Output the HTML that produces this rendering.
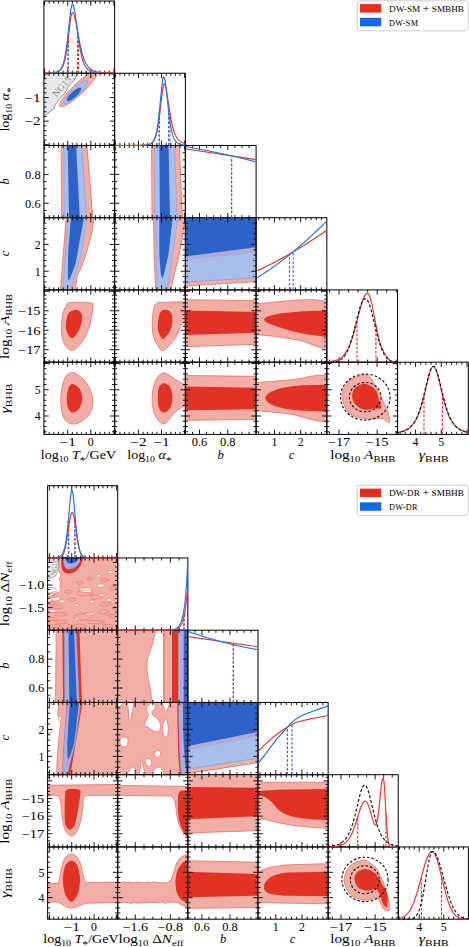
<!DOCTYPE html>
<html><head><meta charset="utf-8"><style>
html,body{margin:0;padding:0;background:#fff;width:469px;height:947px;overflow:hidden}
svg{display:block}
text{font-family:"Liberation Serif",serif;fill:#000}
</style></head><body>
<svg width="469" height="947" viewBox="0 0 469 947">
<path d="M44.59 73.23v-4.8M44.59 1v4.8M49.22 73.23v-2.6M49.22 1v2.6M53.84 73.23v-2.6M53.84 1v2.6M58.46 73.23v-2.6M58.46 1v2.6M63.09 73.23v-2.6M63.09 1v2.6M67.71 73.23v-4.8M67.71 1v4.8M72.33 73.23v-2.6M72.33 1v2.6M76.96 73.23v-2.6M76.96 1v2.6M81.58 73.23v-2.6M81.58 1v2.6M86.2 73.23v-2.6M86.2 1v2.6M90.82 73.23v-4.8M90.82 1v4.8M95.45 73.23v-2.6M95.45 1v2.6M100.07 73.23v-2.6M100.07 1v2.6M104.69 73.23v-2.6M104.69 1v2.6M109.32 73.23v-2.6M109.32 1v2.6M113.94 73.23v-4.8M113.94 1v4.8" stroke="#000" stroke-width="0.9" fill="none"/>
<rect x="43.9" y="1" width="70.73" height="72.23" fill="none" stroke="#000" stroke-width="1"/>
<clipPath id="c3"><rect x="43.9" y="73.23" width="70.73" height="72.23"/></clipPath><g clip-path="url(#c3)">
<path d="M42 71 L78.5 71 L78 73.2 L74.2 79.7 L69.9 84.5 L64.6 93.6 L59 99.5 L55.3 104.5 L53.8 108.9 L49.1 112 L45.3 115 L42 118Z" fill="#e8e8e8" stroke="#666" stroke-width="0.7" />
<text x="0" y="0" font-size="9.3" style="fill:#8c8c8c" textLength="24" lengthAdjust="spacingAndGlyphs" transform="translate(56.3 97.6) rotate(-49)">NG15</text>
<ellipse cx="78.65" cy="88.8" rx="25.4" ry="5.4" transform="rotate(-43.3 78.65 88.8)" fill="#f2aea6" stroke="#ea7a6c" stroke-width="0.9"/>
<ellipse cx="75.6" cy="92.15" rx="16.4" ry="3.9" transform="rotate(-44.5 75.6 92.15)" fill="#a9bfeb" stroke="#6f9be8" stroke-width="0.6"/>
<ellipse cx="73.95" cy="94.3" rx="9.6" ry="2.9" transform="rotate(-43 73.95 94.3)" fill="#2d62c8"/>
</g>
<path d="M44.59 145.47v-4.8M44.59 73.23v4.8M49.22 145.47v-2.6M49.22 73.23v2.6M53.84 145.47v-2.6M53.84 73.23v2.6M58.46 145.47v-2.6M58.46 73.23v2.6M63.09 145.47v-2.6M63.09 73.23v2.6M67.71 145.47v-4.8M67.71 73.23v4.8M72.33 145.47v-2.6M72.33 73.23v2.6M76.96 145.47v-2.6M76.96 73.23v2.6M81.58 145.47v-2.6M81.58 73.23v2.6M86.2 145.47v-2.6M86.2 73.23v2.6M90.82 145.47v-4.8M90.82 73.23v4.8M95.45 145.47v-2.6M95.45 73.23v2.6M100.07 145.47v-2.6M100.07 73.23v2.6M104.69 145.47v-2.6M104.69 73.23v2.6M109.32 145.47v-2.6M109.32 73.23v2.6M113.94 145.47v-4.8M113.94 73.23v4.8M43.9 144.76h4.8M114.63 144.76h-4.8M43.9 140.04h2.6M114.63 140.04h-2.6M43.9 135.32h2.6M114.63 135.32h-2.6M43.9 130.6h2.6M114.63 130.6h-2.6M43.9 125.87h2.6M114.63 125.87h-2.6M43.9 121.15h4.8M114.63 121.15h-4.8M43.9 116.43h2.6M114.63 116.43h-2.6M43.9 111.71h2.6M114.63 111.71h-2.6M43.9 106.99h2.6M114.63 106.99h-2.6M43.9 102.27h2.6M114.63 102.27h-2.6M43.9 97.55h4.8M114.63 97.55h-4.8M43.9 92.83h2.6M114.63 92.83h-2.6M43.9 88.1h2.6M114.63 88.1h-2.6M43.9 83.38h2.6M114.63 83.38h-2.6M43.9 78.66h2.6M114.63 78.66h-2.6M43.9 73.94h4.8M114.63 73.94h-4.8" stroke="#000" stroke-width="0.9" fill="none"/>
<rect x="43.9" y="73.23" width="70.73" height="72.23" fill="none" stroke="#000" stroke-width="1"/>
<path d="M115.33 145.47v-4.8M115.33 73.23v4.8M119.95 145.47v-2.6M119.95 73.23v2.6M124.57 145.47v-2.6M124.57 73.23v2.6M129.2 145.47v-2.6M129.2 73.23v2.6M133.82 145.47v-2.6M133.82 73.23v2.6M138.44 145.47v-4.8M138.44 73.23v4.8M143.07 145.47v-2.6M143.07 73.23v2.6M147.69 145.47v-2.6M147.69 73.23v2.6M152.31 145.47v-2.6M152.31 73.23v2.6M156.93 145.47v-2.6M156.93 73.23v2.6M161.56 145.47v-4.8M161.56 73.23v4.8M166.18 145.47v-2.6M166.18 73.23v2.6M170.8 145.47v-2.6M170.8 73.23v2.6M175.43 145.47v-2.6M175.43 73.23v2.6M180.05 145.47v-2.6M180.05 73.23v2.6M184.67 145.47v-4.8M184.67 73.23v4.8" stroke="#000" stroke-width="0.9" fill="none"/>
<rect x="114.63" y="73.23" width="70.73" height="72.23" fill="none" stroke="#000" stroke-width="1"/>
<clipPath id="c6"><rect x="43.9" y="145.47" width="70.73" height="72.23"/></clipPath><g clip-path="url(#c6)">
<path d="M61.1 143.5 L86.8 143.5 L92.9 219.7 L61.7 219.7Z" fill="#f2aea6" stroke="#ea7a6c" stroke-width="0.9" />
<path d="M63.7 143.5 L81.4 143.5 L86.8 219.7 L64.2 219.7Z" fill="#a9bfeb" stroke="#6f9be8" stroke-width="0.5" />
<path d="M67.6 143.5 L76 143.5 L79.9 219.7 L69.1 219.7Z" fill="#2d62c8" />
</g>
<path d="M44.59 217.7v-4.8M44.59 145.47v4.8M49.22 217.7v-2.6M49.22 145.47v2.6M53.84 217.7v-2.6M53.84 145.47v2.6M58.46 217.7v-2.6M58.46 145.47v2.6M63.09 217.7v-2.6M63.09 145.47v2.6M67.71 217.7v-4.8M67.71 145.47v4.8M72.33 217.7v-2.6M72.33 145.47v2.6M76.96 217.7v-2.6M76.96 145.47v2.6M81.58 217.7v-2.6M81.58 145.47v2.6M86.2 217.7v-2.6M86.2 145.47v2.6M90.82 217.7v-4.8M90.82 145.47v4.8M95.45 217.7v-2.6M95.45 145.47v2.6M100.07 217.7v-2.6M100.07 145.47v2.6M104.69 217.7v-2.6M104.69 145.47v2.6M109.32 217.7v-2.6M109.32 145.47v2.6M113.94 217.7v-4.8M113.94 145.47v4.8M43.9 210.48h2.6M114.63 210.48h-2.6M43.9 203.25h4.8M114.63 203.25h-4.8M43.9 196.03h2.6M114.63 196.03h-2.6M43.9 188.81h2.6M114.63 188.81h-2.6M43.9 181.58h2.6M114.63 181.58h-2.6M43.9 174.36h4.8M114.63 174.36h-4.8M43.9 167.14h2.6M114.63 167.14h-2.6M43.9 159.91h2.6M114.63 159.91h-2.6M43.9 152.69h2.6M114.63 152.69h-2.6" stroke="#000" stroke-width="0.9" fill="none"/>
<rect x="43.9" y="145.47" width="70.73" height="72.23" fill="none" stroke="#000" stroke-width="1"/>
<clipPath id="c7"><rect x="114.63" y="145.47" width="70.73" height="72.23"/></clipPath><g clip-path="url(#c7)">
<path d="M151.6 143.5 L179.3 143.5 L182.4 219.7 L152 219.7Z" fill="#f2aea6" stroke="#ea7a6c" stroke-width="0.9" />
<path d="M154.2 143.5 L174.7 143.5 L177 219.7 L154.7 219.7Z" fill="#a9bfeb" stroke="#6f9be8" stroke-width="0.5" />
<path d="M159.3 143.5 L168.5 143.5 L170 219.7 L160 219.7Z" fill="#2d62c8" />
</g>
<path d="M115.33 217.7v-4.8M115.33 145.47v4.8M119.95 217.7v-2.6M119.95 145.47v2.6M124.57 217.7v-2.6M124.57 145.47v2.6M129.2 217.7v-2.6M129.2 145.47v2.6M133.82 217.7v-2.6M133.82 145.47v2.6M138.44 217.7v-4.8M138.44 145.47v4.8M143.07 217.7v-2.6M143.07 145.47v2.6M147.69 217.7v-2.6M147.69 145.47v2.6M152.31 217.7v-2.6M152.31 145.47v2.6M156.93 217.7v-2.6M156.93 145.47v2.6M161.56 217.7v-4.8M161.56 145.47v4.8M166.18 217.7v-2.6M166.18 145.47v2.6M170.8 217.7v-2.6M170.8 145.47v2.6M175.43 217.7v-2.6M175.43 145.47v2.6M180.05 217.7v-2.6M180.05 145.47v2.6M184.67 217.7v-4.8M184.67 145.47v4.8M114.63 210.48h2.6M185.37 210.48h-2.6M114.63 203.25h4.8M185.37 203.25h-4.8M114.63 196.03h2.6M185.37 196.03h-2.6M114.63 188.81h2.6M185.37 188.81h-2.6M114.63 181.58h2.6M185.37 181.58h-2.6M114.63 174.36h4.8M185.37 174.36h-4.8M114.63 167.14h2.6M185.37 167.14h-2.6M114.63 159.91h2.6M185.37 159.91h-2.6M114.63 152.69h2.6M185.37 152.69h-2.6" stroke="#000" stroke-width="0.9" fill="none"/>
<rect x="114.63" y="145.47" width="70.73" height="72.23" fill="none" stroke="#000" stroke-width="1"/>
<path d="M192.44 217.7v-2.6M192.44 145.47v2.6M199.51 217.7v-4.8M199.51 145.47v4.8M206.59 217.7v-2.6M206.59 145.47v2.6M213.66 217.7v-2.6M213.66 145.47v2.6M220.73 217.7v-2.6M220.73 145.47v2.6M227.81 217.7v-4.8M227.81 145.47v4.8M234.88 217.7v-2.6M234.88 145.47v2.6M241.95 217.7v-2.6M241.95 145.47v2.6M249.03 217.7v-2.6M249.03 145.47v2.6" stroke="#000" stroke-width="0.9" fill="none"/>
<rect x="185.37" y="145.47" width="70.73" height="72.23" fill="none" stroke="#000" stroke-width="1"/>
<clipPath id="c10"><rect x="43.9" y="217.7" width="70.73" height="72.23"/></clipPath><g clip-path="url(#c10)">
<path d="M66.4 214 L94.6 214 L91.5 234.2 L86.7 251.5 L80.9 268.7 L77.6 274.5 L74.7 292 L60.2 292 L63.3 254Z" fill="#f2aea6" stroke="#ea7a6c" stroke-width="0.9" />
<path d="M67.8 214 L87.5 214 L81.5 254 L78.5 263 L72 285 L71.4 292 L62.6 292 L65.3 254Z" fill="#a9bfeb" stroke="#6f9be8" stroke-width="0.5" />
<path d="M71.3 214C72.55 214 83.03 210.9 83.8 214C84.57 217.1 79.82 240.1 79 245C78.18 249.9 76.4 259.9 75.6 263C74.8 266.1 71.7 274.25 71 276C70.3 277.75 68.91 280.5 68.6 280.5C68.29 280.5 67.94 278.65 67.9 276C67.86 273.35 67.99 258.6 68.2 254C68.41 249.4 69.82 232.4 70 230Z" fill="#2d62c8" />
</g>
<path d="M44.59 289.93v-4.8M44.59 217.7v4.8M49.22 289.93v-2.6M49.22 217.7v2.6M53.84 289.93v-2.6M53.84 217.7v2.6M58.46 289.93v-2.6M58.46 217.7v2.6M63.09 289.93v-2.6M63.09 217.7v2.6M67.71 289.93v-4.8M67.71 217.7v4.8M72.33 289.93v-2.6M72.33 217.7v2.6M76.96 289.93v-2.6M76.96 217.7v2.6M81.58 289.93v-2.6M81.58 217.7v2.6M86.2 289.93v-2.6M86.2 217.7v2.6M90.82 289.93v-4.8M90.82 217.7v4.8M95.45 289.93v-2.6M95.45 217.7v2.6M100.07 289.93v-2.6M100.07 217.7v2.6M104.69 289.93v-2.6M104.69 217.7v2.6M109.32 289.93v-2.6M109.32 217.7v2.6M113.94 289.93v-4.8M113.94 217.7v4.8M43.9 287.26h2.6M114.63 287.26h-2.6M43.9 281.91h2.6M114.63 281.91h-2.6M43.9 276.56h2.6M114.63 276.56h-2.6M43.9 271.21h4.8M114.63 271.21h-4.8M43.9 265.86h2.6M114.63 265.86h-2.6M43.9 260.5h2.6M114.63 260.5h-2.6M43.9 255.15h2.6M114.63 255.15h-2.6M43.9 249.8h2.6M114.63 249.8h-2.6M43.9 244.45h4.8M114.63 244.45h-4.8M43.9 239.1h2.6M114.63 239.1h-2.6M43.9 233.75h2.6M114.63 233.75h-2.6M43.9 228.4h2.6M114.63 228.4h-2.6M43.9 223.05h2.6M114.63 223.05h-2.6" stroke="#000" stroke-width="0.9" fill="none"/>
<rect x="43.9" y="217.7" width="70.73" height="72.23" fill="none" stroke="#000" stroke-width="1"/>
<clipPath id="c11"><rect x="114.63" y="217.7" width="70.73" height="72.23"/></clipPath><g clip-path="url(#c11)">
<path d="M153.6 215 L186 215 L179.3 254 L170 292 L155.8 292 L154.2 254Z" fill="#f2aea6" stroke="#ea7a6c" stroke-width="0.9" />
<path d="M155.2 215 L178.5 215 L172.4 254 L167 292 L157 292 L156.2 254Z" fill="#a9bfeb" stroke="#6f9be8" stroke-width="0.5" />
<path d="M159.3 215 L173.1 215 L168.5 254 L164 274 L162.4 278.4 L160.8 274 L159.3 254Z" fill="#2d62c8" />
</g>
<path d="M115.33 289.93v-4.8M115.33 217.7v4.8M119.95 289.93v-2.6M119.95 217.7v2.6M124.57 289.93v-2.6M124.57 217.7v2.6M129.2 289.93v-2.6M129.2 217.7v2.6M133.82 289.93v-2.6M133.82 217.7v2.6M138.44 289.93v-4.8M138.44 217.7v4.8M143.07 289.93v-2.6M143.07 217.7v2.6M147.69 289.93v-2.6M147.69 217.7v2.6M152.31 289.93v-2.6M152.31 217.7v2.6M156.93 289.93v-2.6M156.93 217.7v2.6M161.56 289.93v-4.8M161.56 217.7v4.8M166.18 289.93v-2.6M166.18 217.7v2.6M170.8 289.93v-2.6M170.8 217.7v2.6M175.43 289.93v-2.6M175.43 217.7v2.6M180.05 289.93v-2.6M180.05 217.7v2.6M184.67 289.93v-4.8M184.67 217.7v4.8M114.63 287.26h2.6M185.37 287.26h-2.6M114.63 281.91h2.6M185.37 281.91h-2.6M114.63 276.56h2.6M185.37 276.56h-2.6M114.63 271.21h4.8M185.37 271.21h-4.8M114.63 265.86h2.6M185.37 265.86h-2.6M114.63 260.5h2.6M185.37 260.5h-2.6M114.63 255.15h2.6M185.37 255.15h-2.6M114.63 249.8h2.6M185.37 249.8h-2.6M114.63 244.45h4.8M185.37 244.45h-4.8M114.63 239.1h2.6M185.37 239.1h-2.6M114.63 233.75h2.6M185.37 233.75h-2.6M114.63 228.4h2.6M185.37 228.4h-2.6M114.63 223.05h2.6M185.37 223.05h-2.6" stroke="#000" stroke-width="0.9" fill="none"/>
<rect x="114.63" y="217.7" width="70.73" height="72.23" fill="none" stroke="#000" stroke-width="1"/>
<clipPath id="c12"><rect x="185.37" y="217.7" width="70.73" height="72.23"/></clipPath><g clip-path="url(#c12)">
<path d="M184 215 L258 215 L258 281.5 L184 286Z" fill="#f2aea6" stroke="#ea7a6c" stroke-width="0.9" />
<path d="M184 215 L258 215 L258 277.7 L184 282.3Z" fill="#a9bfeb" stroke="#6f9be8" stroke-width="0.6" />
<path d="M184 215 L258 215 L258 252.3 L184 260Z" fill="#b0abd6" />
<path d="M184 215 L258 215 L258 247 L184 256.6Z" fill="#2d62c8" />
</g>
<path d="M192.44 289.93v-2.6M192.44 217.7v2.6M199.51 289.93v-4.8M199.51 217.7v4.8M206.59 289.93v-2.6M206.59 217.7v2.6M213.66 289.93v-2.6M213.66 217.7v2.6M220.73 289.93v-2.6M220.73 217.7v2.6M227.81 289.93v-4.8M227.81 217.7v4.8M234.88 289.93v-2.6M234.88 217.7v2.6M241.95 289.93v-2.6M241.95 217.7v2.6M249.03 289.93v-2.6M249.03 217.7v2.6M185.37 287.26h2.6M256.1 287.26h-2.6M185.37 281.91h2.6M256.1 281.91h-2.6M185.37 276.56h2.6M256.1 276.56h-2.6M185.37 271.21h4.8M256.1 271.21h-4.8M185.37 265.86h2.6M256.1 265.86h-2.6M185.37 260.5h2.6M256.1 260.5h-2.6M185.37 255.15h2.6M256.1 255.15h-2.6M185.37 249.8h2.6M256.1 249.8h-2.6M185.37 244.45h4.8M256.1 244.45h-4.8M185.37 239.1h2.6M256.1 239.1h-2.6M185.37 233.75h2.6M256.1 233.75h-2.6M185.37 228.4h2.6M256.1 228.4h-2.6M185.37 223.05h2.6M256.1 223.05h-2.6" stroke="#000" stroke-width="0.9" fill="none"/>
<rect x="185.37" y="217.7" width="70.73" height="72.23" fill="none" stroke="#000" stroke-width="1"/>
<path d="M258.72 289.93v-2.6M258.72 217.7v2.6M263.96 289.93v-2.6M263.96 217.7v2.6M269.2 289.93v-2.6M269.2 217.7v2.6M274.44 289.93v-4.8M274.44 217.7v4.8M279.68 289.93v-2.6M279.68 217.7v2.6M284.92 289.93v-2.6M284.92 217.7v2.6M290.16 289.93v-2.6M290.16 217.7v2.6M295.4 289.93v-2.6M295.4 217.7v2.6M300.64 289.93v-4.8M300.64 217.7v4.8M305.88 289.93v-2.6M305.88 217.7v2.6M311.11 289.93v-2.6M311.11 217.7v2.6M316.35 289.93v-2.6M316.35 217.7v2.6M321.59 289.93v-2.6M321.59 217.7v2.6" stroke="#000" stroke-width="0.9" fill="none"/>
<rect x="256.1" y="217.7" width="70.73" height="72.23" fill="none" stroke="#000" stroke-width="1"/>
<clipPath id="c15"><rect x="43.9" y="289.93" width="70.73" height="72.23"/></clipPath><g clip-path="url(#c15)">
<path d="M69.9 302.5C73.63 302.13 85.15 302.22 89 302.8C92.85 303.38 93 301.9 93 306C93 310.1 90.93 321.27 89 327.4C87.07 333.53 84.33 338.97 81.4 342.8C78.47 346.63 74.38 350.53 71.4 350.4C68.42 350.27 65.17 345.83 63.5 342C61.83 338.17 61.48 332.13 61.4 327.4C61.32 322.67 62.13 317.33 63 313.6C63.87 309.87 65.45 306.85 66.6 305C67.75 303.15 66.17 302.87 69.9 302.5Z" fill="#f2aea6" stroke="#ea7a6c" stroke-width="0.9" />
<path d="M73.7 310.2C75.7 309.78 78.58 310.17 80 311.5C81.42 312.83 82.37 315.12 82.2 318.2C82.03 321.28 80.67 326.67 79 330C77.33 333.33 74.2 337.87 72.2 338.2C70.2 338.53 68.03 334.32 67 332C65.97 329.68 65.83 327.3 66 324.3C66.17 321.3 66.72 316.35 68 314C69.28 311.65 71.7 310.62 73.7 310.2Z" fill="#e13223" />
</g>
<path d="M44.59 362.17v-4.8M44.59 289.93v4.8M49.22 362.17v-2.6M49.22 289.93v2.6M53.84 362.17v-2.6M53.84 289.93v2.6M58.46 362.17v-2.6M58.46 289.93v2.6M63.09 362.17v-2.6M63.09 289.93v2.6M67.71 362.17v-4.8M67.71 289.93v4.8M72.33 362.17v-2.6M72.33 289.93v2.6M76.96 362.17v-2.6M76.96 289.93v2.6M81.58 362.17v-2.6M81.58 289.93v2.6M86.2 362.17v-2.6M86.2 289.93v2.6M90.82 362.17v-4.8M90.82 289.93v4.8M95.45 362.17v-2.6M95.45 289.93v2.6M100.07 362.17v-2.6M100.07 289.93v2.6M104.69 362.17v-2.6M104.69 289.93v2.6M109.32 362.17v-2.6M109.32 289.93v2.6M113.94 362.17v-4.8M113.94 289.93v4.8M43.9 361.39h2.6M114.63 361.39h-2.6M43.9 357.49h2.6M114.63 357.49h-2.6M43.9 353.6h2.6M114.63 353.6h-2.6M43.9 349.71h4.8M114.63 349.71h-4.8M43.9 345.81h2.6M114.63 345.81h-2.6M43.9 341.92h2.6M114.63 341.92h-2.6M43.9 338.02h2.6M114.63 338.02h-2.6M43.9 334.13h2.6M114.63 334.13h-2.6M43.9 330.24h4.8M114.63 330.24h-4.8M43.9 326.34h2.6M114.63 326.34h-2.6M43.9 322.45h2.6M114.63 322.45h-2.6M43.9 318.55h2.6M114.63 318.55h-2.6M43.9 314.66h2.6M114.63 314.66h-2.6M43.9 310.77h4.8M114.63 310.77h-4.8M43.9 306.87h2.6M114.63 306.87h-2.6M43.9 302.98h2.6M114.63 302.98h-2.6M43.9 299.08h2.6M114.63 299.08h-2.6M43.9 295.19h2.6M114.63 295.19h-2.6M43.9 291.3h4.8M114.63 291.3h-4.8" stroke="#000" stroke-width="0.9" fill="none"/>
<rect x="43.9" y="289.93" width="70.73" height="72.23" fill="none" stroke="#000" stroke-width="1"/>
<clipPath id="c16"><rect x="114.63" y="289.93" width="70.73" height="72.23"/></clipPath><g clip-path="url(#c16)">
<path d="M155.5 304.4C157.55 301.53 158.95 302.65 164.7 302.5C170.45 302.35 185.78 300.63 190 303.5C194.22 306.37 191.4 316.23 190 319.7C188.6 323.17 184.03 321.22 181.6 324.3C179.17 327.38 178.47 333.85 175.4 338.2C172.33 342.55 166.27 349.38 163.2 350.4C160.13 351.42 158.67 346.87 157 344.3C155.33 341.73 153.97 339.1 153.2 335C152.43 330.9 152.02 324.8 152.4 319.7C152.78 314.6 153.45 307.27 155.5 304.4Z" fill="#f2aea6" stroke="#ea7a6c" stroke-width="0.9" />
<path d="M164.7 309.7C166.37 309.45 168.72 310.08 170 311.5C171.28 312.92 172.32 315.12 172.4 318.2C172.48 321.28 172.03 326.55 170.5 330C168.97 333.45 165.2 338.57 163.2 338.9C161.2 339.23 159.4 334.43 158.5 332C157.6 329.57 157.55 327.47 157.8 324.3C158.05 321.13 158.85 315.43 160 313C161.15 310.57 163.03 309.95 164.7 309.7Z" fill="#e13223" />
</g>
<path d="M115.33 362.17v-4.8M115.33 289.93v4.8M119.95 362.17v-2.6M119.95 289.93v2.6M124.57 362.17v-2.6M124.57 289.93v2.6M129.2 362.17v-2.6M129.2 289.93v2.6M133.82 362.17v-2.6M133.82 289.93v2.6M138.44 362.17v-4.8M138.44 289.93v4.8M143.07 362.17v-2.6M143.07 289.93v2.6M147.69 362.17v-2.6M147.69 289.93v2.6M152.31 362.17v-2.6M152.31 289.93v2.6M156.93 362.17v-2.6M156.93 289.93v2.6M161.56 362.17v-4.8M161.56 289.93v4.8M166.18 362.17v-2.6M166.18 289.93v2.6M170.8 362.17v-2.6M170.8 289.93v2.6M175.43 362.17v-2.6M175.43 289.93v2.6M180.05 362.17v-2.6M180.05 289.93v2.6M184.67 362.17v-4.8M184.67 289.93v4.8M114.63 361.39h2.6M185.37 361.39h-2.6M114.63 357.49h2.6M185.37 357.49h-2.6M114.63 353.6h2.6M185.37 353.6h-2.6M114.63 349.71h4.8M185.37 349.71h-4.8M114.63 345.81h2.6M185.37 345.81h-2.6M114.63 341.92h2.6M185.37 341.92h-2.6M114.63 338.02h2.6M185.37 338.02h-2.6M114.63 334.13h2.6M185.37 334.13h-2.6M114.63 330.24h4.8M185.37 330.24h-4.8M114.63 326.34h2.6M185.37 326.34h-2.6M114.63 322.45h2.6M185.37 322.45h-2.6M114.63 318.55h2.6M185.37 318.55h-2.6M114.63 314.66h2.6M185.37 314.66h-2.6M114.63 310.77h4.8M185.37 310.77h-4.8M114.63 306.87h2.6M185.37 306.87h-2.6M114.63 302.98h2.6M185.37 302.98h-2.6M114.63 299.08h2.6M185.37 299.08h-2.6M114.63 295.19h2.6M185.37 295.19h-2.6M114.63 291.3h4.8M185.37 291.3h-4.8" stroke="#000" stroke-width="0.9" fill="none"/>
<rect x="114.63" y="289.93" width="70.73" height="72.23" fill="none" stroke="#000" stroke-width="1"/>
<clipPath id="c17"><rect x="185.37" y="289.93" width="70.73" height="72.23"/></clipPath><g clip-path="url(#c17)">
<path d="M183.4 299.7 L258.1 300.7 L258.1 344.2 L183.4 346.7Z" fill="#f2aea6" stroke="#ea7a6c" stroke-width="0.9" />
<path d="M183.4 310.5 L258.1 312 L258.1 332.6 L183.4 335Z" fill="#e13223" />
</g>
<path d="M192.44 362.17v-2.6M192.44 289.93v2.6M199.51 362.17v-4.8M199.51 289.93v4.8M206.59 362.17v-2.6M206.59 289.93v2.6M213.66 362.17v-2.6M213.66 289.93v2.6M220.73 362.17v-2.6M220.73 289.93v2.6M227.81 362.17v-4.8M227.81 289.93v4.8M234.88 362.17v-2.6M234.88 289.93v2.6M241.95 362.17v-2.6M241.95 289.93v2.6M249.03 362.17v-2.6M249.03 289.93v2.6M185.37 361.39h2.6M256.1 361.39h-2.6M185.37 357.49h2.6M256.1 357.49h-2.6M185.37 353.6h2.6M256.1 353.6h-2.6M185.37 349.71h4.8M256.1 349.71h-4.8M185.37 345.81h2.6M256.1 345.81h-2.6M185.37 341.92h2.6M256.1 341.92h-2.6M185.37 338.02h2.6M256.1 338.02h-2.6M185.37 334.13h2.6M256.1 334.13h-2.6M185.37 330.24h4.8M256.1 330.24h-4.8M185.37 326.34h2.6M256.1 326.34h-2.6M185.37 322.45h2.6M256.1 322.45h-2.6M185.37 318.55h2.6M256.1 318.55h-2.6M185.37 314.66h2.6M256.1 314.66h-2.6M185.37 310.77h4.8M256.1 310.77h-4.8M185.37 306.87h2.6M256.1 306.87h-2.6M185.37 302.98h2.6M256.1 302.98h-2.6M185.37 299.08h2.6M256.1 299.08h-2.6M185.37 295.19h2.6M256.1 295.19h-2.6M185.37 291.3h4.8M256.1 291.3h-4.8" stroke="#000" stroke-width="0.9" fill="none"/>
<rect x="185.37" y="289.93" width="70.73" height="72.23" fill="none" stroke="#000" stroke-width="1"/>
<clipPath id="c18"><rect x="256.1" y="289.93" width="70.73" height="72.23"/></clipPath><g clip-path="url(#c18)">
<path d="M254 303.9C266.5 303.68 316.5 295.58 329 302.6C341.5 309.62 333.83 339.68 329 346C324.17 352.32 309 342.08 300 340.5C291 338.92 282.67 337.5 275 336.5C267.33 335.5 257.5 334.83 254 334.5Z" fill="#f2aea6" stroke="#ea7a6c" stroke-width="0.9" />
<path d="M329 310.5C324.17 310.67 308.17 311 300 311.5C291.83 312 285.33 312.67 280 313.5C274.67 314.33 270.65 315.47 268 316.5C265.35 317.53 264.1 318.62 264.1 319.7C264.1 320.78 265.35 321.7 268 323C270.65 324.3 274.67 325.83 280 327.5C285.33 329.17 291.83 331.33 300 333C308.17 334.67 324.17 336.75 329 337.5Z" fill="#e13223" />
</g>
<path d="M258.72 362.17v-2.6M258.72 289.93v2.6M263.96 362.17v-2.6M263.96 289.93v2.6M269.2 362.17v-2.6M269.2 289.93v2.6M274.44 362.17v-4.8M274.44 289.93v4.8M279.68 362.17v-2.6M279.68 289.93v2.6M284.92 362.17v-2.6M284.92 289.93v2.6M290.16 362.17v-2.6M290.16 289.93v2.6M295.4 362.17v-2.6M295.4 289.93v2.6M300.64 362.17v-4.8M300.64 289.93v4.8M305.88 362.17v-2.6M305.88 289.93v2.6M311.11 362.17v-2.6M311.11 289.93v2.6M316.35 362.17v-2.6M316.35 289.93v2.6M321.59 362.17v-2.6M321.59 289.93v2.6M256.1 361.39h2.6M326.83 361.39h-2.6M256.1 357.49h2.6M326.83 357.49h-2.6M256.1 353.6h2.6M326.83 353.6h-2.6M256.1 349.71h4.8M326.83 349.71h-4.8M256.1 345.81h2.6M326.83 345.81h-2.6M256.1 341.92h2.6M326.83 341.92h-2.6M256.1 338.02h2.6M326.83 338.02h-2.6M256.1 334.13h2.6M326.83 334.13h-2.6M256.1 330.24h4.8M326.83 330.24h-4.8M256.1 326.34h2.6M326.83 326.34h-2.6M256.1 322.45h2.6M326.83 322.45h-2.6M256.1 318.55h2.6M326.83 318.55h-2.6M256.1 314.66h2.6M326.83 314.66h-2.6M256.1 310.77h4.8M326.83 310.77h-4.8M256.1 306.87h2.6M326.83 306.87h-2.6M256.1 302.98h2.6M326.83 302.98h-2.6M256.1 299.08h2.6M326.83 299.08h-2.6M256.1 295.19h2.6M326.83 295.19h-2.6M256.1 291.3h4.8M326.83 291.3h-4.8" stroke="#000" stroke-width="0.9" fill="none"/>
<rect x="256.1" y="289.93" width="70.73" height="72.23" fill="none" stroke="#000" stroke-width="1"/>
<path d="M329.5 362.17v-2.6M329.5 289.93v2.6M339.04 362.17v-4.8M339.04 289.93v4.8M348.57 362.17v-2.6M348.57 289.93v2.6M358.1 362.17v-2.6M358.1 289.93v2.6M367.63 362.17v-2.6M367.63 289.93v2.6M377.17 362.17v-4.8M377.17 289.93v4.8M386.7 362.17v-2.6M386.7 289.93v2.6M396.23 362.17v-2.6M396.23 289.93v2.6" stroke="#000" stroke-width="0.9" fill="none"/>
<rect x="326.83" y="289.93" width="70.73" height="72.23" fill="none" stroke="#000" stroke-width="1"/>
<clipPath id="c21"><rect x="43.9" y="362.17" width="70.73" height="72.23"/></clipPath><g clip-path="url(#c21)">
<path d="M71.4 372.5C74.4 372.17 78.98 375.42 82 378C85.02 380.58 87.68 384.17 89.5 388C91.32 391.83 92.82 396.83 92.9 401C92.98 405.17 91.82 409.67 90 413C88.18 416.33 84.97 419.17 82 421C79.03 422.83 75.2 424.5 72.2 424C69.2 423.5 65.92 422.1 64 418C62.08 413.9 60.7 405.73 60.7 399.4C60.7 393.07 62.22 384.48 64 380C65.78 375.52 68.4 372.83 71.4 372.5Z" fill="#f2aea6" stroke="#ea7a6c" stroke-width="0.9" />
<path d="M72.2 384C73.95 384 77.33 385.68 79 388C80.67 390.32 82.12 394.57 82.2 397.9C82.28 401.23 81.03 405.57 79.5 408C77.97 410.43 74.92 412.5 73 412.5C71.08 412.5 69.03 410.43 68 408C66.97 405.57 66.72 401.23 66.8 397.9C66.88 394.57 67.6 390.32 68.5 388C69.4 385.68 70.45 384 72.2 384Z" fill="#e13223" />
</g>
<path d="M44.59 434.4v-4.8M44.59 362.17v4.8M49.22 434.4v-2.6M49.22 362.17v2.6M53.84 434.4v-2.6M53.84 362.17v2.6M58.46 434.4v-2.6M58.46 362.17v2.6M63.09 434.4v-2.6M63.09 362.17v2.6M67.71 434.4v-4.8M67.71 362.17v4.8M72.33 434.4v-2.6M72.33 362.17v2.6M76.96 434.4v-2.6M76.96 362.17v2.6M81.58 434.4v-2.6M81.58 362.17v2.6M86.2 434.4v-2.6M86.2 362.17v2.6M90.82 434.4v-4.8M90.82 362.17v4.8M95.45 434.4v-2.6M95.45 362.17v2.6M100.07 434.4v-2.6M100.07 362.17v2.6M104.69 434.4v-2.6M104.69 362.17v2.6M109.32 434.4v-2.6M109.32 362.17v2.6M113.94 434.4v-4.8M113.94 362.17v4.8M43.9 431.77h2.6M114.63 431.77h-2.6M43.9 426.52h2.6M114.63 426.52h-2.6M43.9 421.27h2.6M114.63 421.27h-2.6M43.9 416.01h4.8M114.63 416.01h-4.8M43.9 410.76h2.6M114.63 410.76h-2.6M43.9 405.51h2.6M114.63 405.51h-2.6M43.9 400.25h2.6M114.63 400.25h-2.6M43.9 395h2.6M114.63 395h-2.6M43.9 389.75h4.8M114.63 389.75h-4.8M43.9 384.49h2.6M114.63 384.49h-2.6M43.9 379.24h2.6M114.63 379.24h-2.6M43.9 373.99h2.6M114.63 373.99h-2.6M43.9 368.73h2.6M114.63 368.73h-2.6M43.9 363.48h4.8M114.63 363.48h-4.8" stroke="#000" stroke-width="0.9" fill="none"/>
<rect x="43.9" y="362.17" width="70.73" height="72.23" fill="none" stroke="#000" stroke-width="1"/>
<clipPath id="c22"><rect x="114.63" y="362.17" width="70.73" height="72.23"/></clipPath><g clip-path="url(#c22)">
<path d="M163.2 373C166.6 372.57 171.27 376.9 175.4 379.4C179.53 381.9 185.9 384.28 188 388C190.1 391.72 190.1 397.75 188 401.7C185.9 405.65 179.42 408.03 175.4 411.7C171.38 415.37 167.3 423.15 163.9 423.7C160.5 424.25 156.97 419.05 155 415C153.03 410.95 152.1 404.9 152.1 399.4C152.1 393.9 153.15 386.4 155 382C156.85 377.6 159.8 373.43 163.2 373Z" fill="#f2aea6" stroke="#ea7a6c" stroke-width="0.9" />
<path d="M163.9 383.3C165.73 383.3 168.58 384.57 170 387C171.42 389.43 172.4 394.4 172.4 397.9C172.4 401.4 171.42 405.57 170 408C168.58 410.43 165.73 412.5 163.9 412.5C162.07 412.5 160.02 410.43 159 408C157.98 405.57 157.8 401.4 157.8 397.9C157.8 394.4 157.98 389.43 159 387C160.02 384.57 162.07 383.3 163.9 383.3Z" fill="#e13223" />
</g>
<path d="M115.33 434.4v-4.8M115.33 362.17v4.8M119.95 434.4v-2.6M119.95 362.17v2.6M124.57 434.4v-2.6M124.57 362.17v2.6M129.2 434.4v-2.6M129.2 362.17v2.6M133.82 434.4v-2.6M133.82 362.17v2.6M138.44 434.4v-4.8M138.44 362.17v4.8M143.07 434.4v-2.6M143.07 362.17v2.6M147.69 434.4v-2.6M147.69 362.17v2.6M152.31 434.4v-2.6M152.31 362.17v2.6M156.93 434.4v-2.6M156.93 362.17v2.6M161.56 434.4v-4.8M161.56 362.17v4.8M166.18 434.4v-2.6M166.18 362.17v2.6M170.8 434.4v-2.6M170.8 362.17v2.6M175.43 434.4v-2.6M175.43 362.17v2.6M180.05 434.4v-2.6M180.05 362.17v2.6M184.67 434.4v-4.8M184.67 362.17v4.8M114.63 431.77h2.6M185.37 431.77h-2.6M114.63 426.52h2.6M185.37 426.52h-2.6M114.63 421.27h2.6M185.37 421.27h-2.6M114.63 416.01h4.8M185.37 416.01h-4.8M114.63 410.76h2.6M185.37 410.76h-2.6M114.63 405.51h2.6M185.37 405.51h-2.6M114.63 400.25h2.6M185.37 400.25h-2.6M114.63 395h2.6M185.37 395h-2.6M114.63 389.75h4.8M185.37 389.75h-4.8M114.63 384.49h2.6M185.37 384.49h-2.6M114.63 379.24h2.6M185.37 379.24h-2.6M114.63 373.99h2.6M185.37 373.99h-2.6M114.63 368.73h2.6M185.37 368.73h-2.6M114.63 363.48h4.8M185.37 363.48h-4.8" stroke="#000" stroke-width="0.9" fill="none"/>
<rect x="114.63" y="362.17" width="70.73" height="72.23" fill="none" stroke="#000" stroke-width="1"/>
<clipPath id="c23"><rect x="185.37" y="362.17" width="70.73" height="72.23"/></clipPath><g clip-path="url(#c23)">
<path d="M183.4 375.5 L258.1 376.4 L258.1 419.4 L183.4 420.3Z" fill="#f2aea6" stroke="#ea7a6c" stroke-width="0.9" />
<path d="M183.4 386.5 L258.1 387.8 L258.1 409.2 L183.4 410.2Z" fill="#e13223" />
</g>
<path d="M192.44 434.4v-2.6M192.44 362.17v2.6M199.51 434.4v-4.8M199.51 362.17v4.8M206.59 434.4v-2.6M206.59 362.17v2.6M213.66 434.4v-2.6M213.66 362.17v2.6M220.73 434.4v-2.6M220.73 362.17v2.6M227.81 434.4v-4.8M227.81 362.17v4.8M234.88 434.4v-2.6M234.88 362.17v2.6M241.95 434.4v-2.6M241.95 362.17v2.6M249.03 434.4v-2.6M249.03 362.17v2.6M185.37 431.77h2.6M256.1 431.77h-2.6M185.37 426.52h2.6M256.1 426.52h-2.6M185.37 421.27h2.6M256.1 421.27h-2.6M185.37 416.01h4.8M256.1 416.01h-4.8M185.37 410.76h2.6M256.1 410.76h-2.6M185.37 405.51h2.6M256.1 405.51h-2.6M185.37 400.25h2.6M256.1 400.25h-2.6M185.37 395h2.6M256.1 395h-2.6M185.37 389.75h4.8M256.1 389.75h-4.8M185.37 384.49h2.6M256.1 384.49h-2.6M185.37 379.24h2.6M256.1 379.24h-2.6M185.37 373.99h2.6M256.1 373.99h-2.6M185.37 368.73h2.6M256.1 368.73h-2.6M185.37 363.48h4.8M256.1 363.48h-4.8" stroke="#000" stroke-width="0.9" fill="none"/>
<rect x="185.37" y="362.17" width="70.73" height="72.23" fill="none" stroke="#000" stroke-width="1"/>
<clipPath id="c24"><rect x="256.1" y="362.17" width="70.73" height="72.23"/></clipPath><g clip-path="url(#c24)">
<path d="M254 382.8C260 382.33 277.5 380.83 290 380C302.5 379.17 322.5 371.2 329 377.8C335.5 384.4 335.5 413.57 329 419.6C322.5 425.63 302.5 415.53 290 414C277.5 412.47 260 411 254 410.4Z" fill="#f2aea6" stroke="#ea7a6c" stroke-width="0.9" />
<path d="M329 384.7C324.17 384.83 308.17 384.87 300 385.5C291.83 386.13 285.17 387.25 280 388.5C274.83 389.75 271.43 391.43 269 393C266.57 394.57 265.4 396.23 265.4 397.9C265.4 399.57 266.57 401.4 269 403C271.43 404.6 274.83 406.25 280 407.5C285.17 408.75 291.83 409.8 300 410.5C308.17 411.2 324.17 411.5 329 411.7Z" fill="#e13223" />
</g>
<path d="M258.72 434.4v-2.6M258.72 362.17v2.6M263.96 434.4v-2.6M263.96 362.17v2.6M269.2 434.4v-2.6M269.2 362.17v2.6M274.44 434.4v-4.8M274.44 362.17v4.8M279.68 434.4v-2.6M279.68 362.17v2.6M284.92 434.4v-2.6M284.92 362.17v2.6M290.16 434.4v-2.6M290.16 362.17v2.6M295.4 434.4v-2.6M295.4 362.17v2.6M300.64 434.4v-4.8M300.64 362.17v4.8M305.88 434.4v-2.6M305.88 362.17v2.6M311.11 434.4v-2.6M311.11 362.17v2.6M316.35 434.4v-2.6M316.35 362.17v2.6M321.59 434.4v-2.6M321.59 362.17v2.6M256.1 431.77h2.6M326.83 431.77h-2.6M256.1 426.52h2.6M326.83 426.52h-2.6M256.1 421.27h2.6M326.83 421.27h-2.6M256.1 416.01h4.8M326.83 416.01h-4.8M256.1 410.76h2.6M326.83 410.76h-2.6M256.1 405.51h2.6M326.83 405.51h-2.6M256.1 400.25h2.6M326.83 400.25h-2.6M256.1 395h2.6M326.83 395h-2.6M256.1 389.75h4.8M326.83 389.75h-4.8M256.1 384.49h2.6M326.83 384.49h-2.6M256.1 379.24h2.6M326.83 379.24h-2.6M256.1 373.99h2.6M326.83 373.99h-2.6M256.1 368.73h2.6M326.83 368.73h-2.6M256.1 363.48h4.8M326.83 363.48h-4.8" stroke="#000" stroke-width="0.9" fill="none"/>
<rect x="256.1" y="362.17" width="70.73" height="72.23" fill="none" stroke="#000" stroke-width="1"/>
<clipPath id="c25"><rect x="326.83" y="362.17" width="70.73" height="72.23"/></clipPath><g clip-path="url(#c25)">
<path d="M364.4 374.8C367.98 374.28 368.4 375.53 370.5 377.9C372.6 380.27 374.68 384.65 377 389C379.32 393.35 382.48 399.83 384.4 404C386.32 408.17 387.62 410.93 388.5 414C389.38 417.07 390.12 421.23 389.7 422.4C389.28 423.57 387.15 421.63 386 421C384.85 420.37 384.8 418.97 382.8 418.6C380.8 418.23 377.07 418.8 374 418.8C370.93 418.8 368.57 419.57 364.4 418.6C360.23 417.63 352.72 416.72 349 413C345.28 409.28 342.1 401.63 342.1 396.3C342.1 390.97 345.28 384.58 349 381C352.72 377.42 360.82 375.32 364.4 374.8Z" fill="#f2aea6" stroke="#ea7a6c" stroke-width="0.9" />
<path d="M363.6 383.7C366.27 383.37 368.82 384.67 371 386C373.18 387.33 375.37 389.37 376.7 391.7C378.03 394.03 378.23 397.3 379 400C379.77 402.7 382.13 406.47 381.3 407.9C380.47 409.33 376.82 408.28 374 408.6C371.18 408.92 367.4 410.4 364.4 409.8C361.4 409.2 358.05 407.12 356 405C353.95 402.88 352.27 399.93 352.1 397.1C351.93 394.27 353.08 390.23 355 388C356.92 385.77 360.93 384.03 363.6 383.7Z" fill="#e13223" />
<ellipse cx="365.3" cy="397.1" rx="24.8" ry="23" fill="none" stroke="#111" stroke-width="1.1" stroke-dasharray="2.6 1.9"/>
<ellipse cx="365.2" cy="397.1" rx="15.8" ry="14.6" fill="none" stroke="#111" stroke-width="1.1" stroke-dasharray="2.6 1.9"/>
</g>
<path d="M329.5 434.4v-2.6M329.5 362.17v2.6M339.04 434.4v-4.8M339.04 362.17v4.8M348.57 434.4v-2.6M348.57 362.17v2.6M358.1 434.4v-2.6M358.1 362.17v2.6M367.63 434.4v-2.6M367.63 362.17v2.6M377.17 434.4v-4.8M377.17 362.17v4.8M386.7 434.4v-2.6M386.7 362.17v2.6M396.23 434.4v-2.6M396.23 362.17v2.6M326.83 431.77h2.6M397.57 431.77h-2.6M326.83 426.52h2.6M397.57 426.52h-2.6M326.83 421.27h2.6M397.57 421.27h-2.6M326.83 416.01h4.8M397.57 416.01h-4.8M326.83 410.76h2.6M397.57 410.76h-2.6M326.83 405.51h2.6M397.57 405.51h-2.6M326.83 400.25h2.6M397.57 400.25h-2.6M326.83 395h2.6M397.57 395h-2.6M326.83 389.75h4.8M397.57 389.75h-4.8M326.83 384.49h2.6M397.57 384.49h-2.6M326.83 379.24h2.6M397.57 379.24h-2.6M326.83 373.99h2.6M397.57 373.99h-2.6M326.83 368.73h2.6M397.57 368.73h-2.6M326.83 363.48h4.8M397.57 363.48h-4.8" stroke="#000" stroke-width="0.9" fill="none"/>
<rect x="326.83" y="362.17" width="70.73" height="72.23" fill="none" stroke="#000" stroke-width="1"/>
<path d="M400.14 434.4v-2.6M400.14 362.17v2.6M405.28 434.4v-2.6M405.28 362.17v2.6M410.43 434.4v-2.6M410.43 362.17v2.6M415.57 434.4v-4.8M415.57 362.17v4.8M420.72 434.4v-2.6M420.72 362.17v2.6M425.86 434.4v-2.6M425.86 362.17v2.6M431 434.4v-2.6M431 362.17v2.6M436.15 434.4v-2.6M436.15 362.17v2.6M441.29 434.4v-4.8M441.29 362.17v4.8M446.44 434.4v-2.6M446.44 362.17v2.6M451.58 434.4v-2.6M451.58 362.17v2.6M456.73 434.4v-2.6M456.73 362.17v2.6M461.87 434.4v-2.6M461.87 362.17v2.6M467.01 434.4v-4.8M467.01 362.17v4.8" stroke="#000" stroke-width="0.9" fill="none"/>
<rect x="397.57" y="362.17" width="70.73" height="72.23" fill="none" stroke="#000" stroke-width="1"/>
<clipPath id="c2"><rect x="44.4" y="1.5" width="69.73" height="73.43"/></clipPath><g clip-path="url(#c2)">
<path d="M68.3 73.23V37.52" stroke="#e4332a" stroke-width="1.15" stroke-dasharray="2.6 1.7" fill="none"/>
<path d="M78.6 73.23V36.89" stroke="#e4332a" stroke-width="1.15" stroke-dasharray="2.6 1.7" fill="none"/>
<path d="M68.1 73.23V33.68" stroke="#1f72e8" stroke-width="1.15" stroke-dasharray="2.6 1.7" fill="none"/>
<path d="M77.5 73.23V31.42" stroke="#1f72e8" stroke-width="1.15" stroke-dasharray="2.6 1.7" fill="none"/>
<path d="M42.9 73.19 L43.42 73.18 L43.94 73.18 L44.46 73.17 L44.98 73.17 L45.5 73.16 L46.02 73.15 L46.54 73.14 L47.06 73.13 L47.58 73.12 L48.1 73.11 L48.61 73.09 L49.13 73.07 L49.65 73.05 L50.17 73.03 L50.69 73.01 L51.21 72.98 L51.73 72.94 L52.25 72.9 L52.77 72.86 L53.29 72.8 L53.81 72.74 L54.33 72.67 L54.85 72.59 L55.37 72.49 L55.89 72.38 L56.41 72.25 L56.93 72.09 L57.45 71.91 L57.97 71.69 L58.49 71.44 L59.01 71.13 L59.52 70.77 L60.04 70.35 L60.56 69.84 L61.08 69.24 L61.6 68.52 L62.12 67.67 L62.64 66.66 L63.16 65.46 L63.68 64.05 L64.2 62.38 L64.72 60.43 L65.24 58.16 L65.76 55.54 L66.28 52.55 L66.8 49.18 L67.32 45.44 L67.84 41.37 L68.36 37.03 L68.88 32.55 L69.4 28.07 L69.92 23.78 L70.43 19.89 L70.95 16.63 L71.47 14.2 L71.99 12.78 L72.51 12.44 L73.03 12.79 L73.55 13.62 L74.07 14.89 L74.59 16.56 L75.11 18.6 L75.63 20.93 L76.15 23.49 L76.67 26.22 L77.19 29.06 L77.71 31.95 L78.23 34.84 L78.75 37.69 L79.27 40.45 L79.79 43.11 L80.31 45.64 L80.83 48.02 L81.34 50.25 L81.86 52.32 L82.38 54.24 L82.9 56 L83.42 57.62 L83.94 59.09 L84.46 60.43 L84.98 61.65 L85.5 62.75 L86.02 63.75 L86.54 64.65 L87.06 65.47 L87.58 66.2 L88.1 66.86 L88.62 67.46 L89.14 67.99 L89.66 68.47 L90.18 68.91 L90.7 69.3 L91.22 69.65 L91.74 69.97 L92.25 70.26 L92.77 70.52 L93.29 70.75 L93.81 70.96 L94.33 71.16 L94.85 71.33 L95.37 71.49 L95.89 71.63 L96.41 71.76 L96.93 71.88 L97.45 71.98 L97.97 72.08 L98.49 72.17 L99.01 72.25 L99.53 72.33 L100.05 72.39 L100.57 72.46 L101.09 72.51 L101.61 72.56 L102.13 72.61 L102.65 72.66 L103.16 72.7 L103.68 72.73 L104.2 72.77 L104.72 72.8 L105.24 72.83 L105.76 72.85 L106.28 72.88 L106.8 72.9 L107.32 72.92 L107.84 72.94 L108.36 72.96 L108.88 72.98 L109.4 72.99 L109.92 73.01 L110.44 73.02 L110.96 73.03 L111.48 73.04 L112 73.06 L112.52 73.07 L113.04 73.08 L113.56 73.08 L114.07 73.09 L114.59 73.1 L115.11 73.11 L115.63 73.11" stroke="#e4332a" stroke-width="1.15" fill="none"/>
<path d="M51.26 72.9 L51.63 72.87 L51.99 72.83 L52.36 72.8 L52.72 72.76 L53.08 72.71 L53.45 72.66 L53.81 72.61 L54.17 72.54 L54.54 72.48 L54.9 72.4 L55.26 72.32 L55.63 72.22 L55.99 72.12 L56.36 72 L56.72 71.87 L57.08 71.72 L57.45 71.56 L57.81 71.37 L58.17 71.17 L58.54 70.94 L58.9 70.68 L59.27 70.38 L59.63 70.06 L59.99 69.69 L60.36 69.27 L60.72 68.8 L61.08 68.28 L61.45 67.68 L61.81 67.02 L62.17 66.27 L62.54 65.43 L62.9 64.48 L63.27 63.43 L63.63 62.24 L63.99 60.92 L64.36 59.45 L64.72 57.81 L65.08 56.01 L65.45 54.01 L65.81 51.83 L66.17 49.44 L66.54 46.85 L66.9 44.07 L67.27 41.1 L67.63 37.96 L67.99 34.67 L68.36 31.27 L68.72 27.8 L69.08 24.33 L69.45 20.9 L69.81 17.61 L70.17 14.52 L70.54 11.71 L70.9 9.27 L71.27 7.26 L71.63 5.76 L71.99 4.81 L72.36 4.44 L72.72 4.58 L73.08 5.1 L73.45 5.98 L73.81 7.21 L74.18 8.76 L74.54 10.59 L74.9 12.68 L75.27 14.98 L75.63 17.45 L75.99 20.06 L76.36 22.75 L76.72 25.5 L77.08 28.27 L77.45 31.03 L77.81 33.75 L78.18 36.4 L78.54 38.97 L78.9 41.45 L79.27 43.81 L79.63 46.06 L79.99 48.18 L80.36 50.17 L80.72 52.04 L81.08 53.78 L81.45 55.4 L81.81 56.9 L82.18 58.28 L82.54 59.56 L82.9 60.74 L83.27 61.82 L83.63 62.8 L83.99 63.71 L84.36 64.54 L84.72 65.29 L85.09 65.98 L85.45 66.61 L85.81 67.18 L86.18 67.71 L86.54 68.18 L86.9 68.61 L87.27 69.01 L87.63 69.37 L87.99 69.69 L88.36 69.99 L88.72 70.26 L89.09 70.51 L89.45 70.73 L89.81 70.93 L90.18 71.12 L90.54 71.29 L90.9 71.45 L91.27 71.59 L91.63 71.72 L91.99 71.84 L92.36 71.94 L92.72 72.04 L93.09 72.13 L93.45 72.22 L93.81 72.29 L94.18 72.36 L94.54 72.43 L94.9 72.49 L95.27 72.54 L95.63 72.59 L96 72.64 L96.36 72.68 L96.72 72.72 L97.09 72.75 L97.45 72.79 L97.81 72.82 L98.18 72.84 L98.54 72.87 L98.9 72.89" stroke="#1f72e8" stroke-width="1.15" fill="none"/>
</g>
<clipPath id="c5"><rect x="115.13" y="73.73" width="69.73" height="73.43"/></clipPath><g clip-path="url(#c5)">
<path d="M159.5 145.47V116.13" stroke="#e4332a" stroke-width="1.15" stroke-dasharray="2.6 1.7" fill="none"/>
<path d="M169.9 145.47V113.12" stroke="#e4332a" stroke-width="1.15" stroke-dasharray="2.6 1.7" fill="none"/>
<path d="M159.2 145.47V113.07" stroke="#1f72e8" stroke-width="1.15" stroke-dasharray="2.6 1.7" fill="none"/>
<path d="M168.6 145.47V110.93" stroke="#1f72e8" stroke-width="1.15" stroke-dasharray="2.6 1.7" fill="none"/>
<path d="M113.63 145.46 L114.15 145.46 L114.67 145.46 L115.19 145.46 L115.71 145.46 L116.23 145.46 L116.75 145.46 L117.27 145.46 L117.79 145.46 L118.31 145.46 L118.83 145.46 L119.35 145.46 L119.87 145.46 L120.39 145.46 L120.91 145.46 L121.43 145.46 L121.95 145.46 L122.47 145.46 L122.98 145.46 L123.5 145.46 L124.02 145.46 L124.54 145.46 L125.06 145.46 L125.58 145.46 L126.1 145.46 L126.62 145.46 L127.14 145.46 L127.66 145.45 L128.18 145.45 L128.7 145.45 L129.22 145.45 L129.74 145.45 L130.26 145.45 L130.78 145.45 L131.3 145.45 L131.82 145.44 L132.34 145.44 L132.86 145.44 L133.38 145.44 L133.89 145.43 L134.41 145.43 L134.93 145.43 L135.45 145.42 L135.97 145.42 L136.49 145.41 L137.01 145.41 L137.53 145.4 L138.05 145.39 L138.57 145.38 L139.09 145.37 L139.61 145.36 L140.13 145.35 L140.65 145.34 L141.17 145.32 L141.69 145.3 L142.21 145.28 L142.73 145.26 L143.25 145.23 L143.77 145.2 L144.29 145.16 L144.8 145.12 L145.32 145.07 L145.84 145.01 L146.36 144.95 L146.88 144.87 L147.4 144.78 L147.92 144.67 L148.44 144.55 L148.96 144.4 L149.48 144.22 L150 144.02 L150.52 143.77 L151.04 143.48 L151.56 143.13 L152.08 142.72 L152.6 142.22 L153.12 141.63 L153.64 140.92 L154.16 140.08 L154.68 139.07 L155.2 137.87 L155.71 136.45 L156.23 134.76 L156.75 132.78 L157.27 130.46 L157.79 127.77 L158.31 124.68 L158.83 121.19 L159.35 117.31 L159.87 113.07 L160.39 108.55 L160.91 103.88 L161.43 99.23 L161.95 94.8 L162.47 90.84 L162.99 87.58 L163.51 85.26 L164.03 84.03 L164.55 83.96 L165.07 84.75 L165.59 86.3 L166.11 88.53 L166.62 91.31 L167.14 94.5 L167.66 97.96 L168.18 101.55 L168.7 105.17 L169.22 108.72 L169.74 112.12 L170.26 115.33 L170.78 118.31 L171.3 121.05 L171.82 123.55 L172.34 125.82 L172.86 127.85 L173.38 129.68 L173.9 131.31 L174.42 132.77 L174.94 134.06 L175.46 135.21 L175.98 136.23 L176.5 137.14 L177.02 137.95 L177.53 138.67 L178.05 139.31 L178.57 139.88 L179.09 140.39 L179.61 140.85 L180.13 141.25 L180.65 141.62 L181.17 141.95 L181.69 142.24 L182.21 142.51 L182.73 142.75 L183.25 142.96 L183.77 143.16 L184.29 143.34 L184.81 143.5 L185.33 143.64 L185.85 143.78 L186.37 143.9" stroke="#e4332a" stroke-width="1.15" fill="none"/>
<path d="M144.91 145.14 L145.27 145.11 L145.64 145.07 L146 145.03 L146.36 144.98 L146.73 144.93 L147.09 144.87 L147.45 144.81 L147.82 144.73 L148.18 144.65 L148.55 144.55 L148.91 144.45 L149.27 144.32 L149.64 144.19 L150 144.03 L150.36 143.86 L150.73 143.66 L151.09 143.43 L151.45 143.17 L151.82 142.87 L152.18 142.53 L152.55 142.14 L152.91 141.7 L153.27 141.2 L153.64 140.62 L154 139.96 L154.36 139.21 L154.73 138.35 L155.09 137.37 L155.46 136.26 L155.82 134.99 L156.18 133.55 L156.55 131.93 L156.91 130.1 L157.27 128.04 L157.64 125.76 L158 123.22 L158.36 120.43 L158.73 117.39 L159.09 114.1 L159.46 110.59 L159.82 106.89 L160.18 103.05 L160.55 99.14 L160.91 95.24 L161.27 91.46 L161.64 87.88 L162 84.64 L162.36 81.85 L162.73 79.61 L163.09 78.02 L163.46 77.14 L163.82 77 L164.18 77.48 L164.55 78.52 L164.91 80.08 L165.27 82.13 L165.64 84.59 L166 87.39 L166.37 90.46 L166.73 93.72 L167.09 97.09 L167.46 100.51 L167.82 103.91 L168.18 107.25 L168.55 110.48 L168.91 113.56 L169.27 116.48 L169.64 119.21 L170 121.75 L170.37 124.1 L170.73 126.26 L171.09 128.22 L171.46 130.01 L171.82 131.63 L172.18 133.09 L172.55 134.4 L172.91 135.58 L173.27 136.63 L173.64 137.57 L174 138.42 L174.37 139.16 L174.73 139.83 L175.09 140.43 L175.46 140.96 L175.82 141.43 L176.18 141.85 L176.55 142.22 L176.91 142.55 L177.28 142.85 L177.64 143.11 L178 143.35 L178.37 143.56 L178.73 143.74 L179.09 143.91 L179.46 144.06 L179.82 144.19 L180.18 144.31 L180.55 144.42 L180.91 144.52 L181.28 144.6 L181.64 144.68 L182 144.75 L182.37 144.82 L182.73 144.87 L183.09 144.92 L183.46 144.97 L183.82 145.01 L184.18 145.05 L184.55 145.09 L184.91 145.12" stroke="#1f72e8" stroke-width="1.15" fill="none"/>
</g>
<clipPath id="c9"><rect x="185.87" y="145.97" width="69.73" height="73.43"/></clipPath><g clip-path="url(#c9)">
<path d="M231.6 217.7V157.3" stroke="#e4332a" stroke-width="1.15" stroke-dasharray="2.6 1.7" fill="none"/>
<path d="M231.6 217.7V157.3" stroke="#1f72e8" stroke-width="1.0" stroke-dasharray="2.6 1.7" fill="none"/>
<path d="M184 148.6L257.5 159.8" stroke="#e4332a" stroke-width="1.15" fill="none"/>
<path d="M184 146.3Q220 152.5 257.5 162.2" stroke="#1f72e8" stroke-width="1.15" fill="none"/>
</g>
<clipPath id="c14"><rect x="256.6" y="218.2" width="69.73" height="73.43"/></clipPath><g clip-path="url(#c14)">
<path d="M289.5 289.9V254.2" stroke="#e4332a" stroke-width="1.15" stroke-dasharray="2.6 1.7" fill="none"/>
<path d="M293.2 289.9V252" stroke="#1f72e8" stroke-width="1.15" stroke-dasharray="2.6 1.7" fill="none"/>
<path d="M255.1 271.79 L255.62 271.55 L256.14 271.32 L256.66 271.07 L257.18 270.83 L257.7 270.59 L258.22 270.35 L258.74 270.1 L259.26 269.86 L259.78 269.61 L260.3 269.37 L260.81 269.12 L261.33 268.87 L261.85 268.62 L262.37 268.37 L262.89 268.12 L263.41 267.86 L263.93 267.61 L264.45 267.36 L264.97 267.1 L265.49 266.85 L266.01 266.59 L266.53 266.33 L267.05 266.07 L267.57 265.81 L268.09 265.55 L268.61 265.29 L269.13 265.03 L269.65 264.76 L270.17 264.5 L270.69 264.24 L271.21 263.97 L271.72 263.7 L272.24 263.43 L272.76 263.17 L273.28 262.9 L273.8 262.62 L274.32 262.35 L274.84 262.08 L275.36 261.81 L275.88 261.53 L276.4 261.26 L276.92 260.98 L277.44 260.7 L277.96 260.43 L278.48 260.15 L279 259.87 L279.52 259.59 L280.04 259.31 L280.56 259.02 L281.08 258.74 L281.6 258.46 L282.12 258.17 L282.63 257.88 L283.15 257.6 L283.67 257.31 L284.19 257.02 L284.71 256.73 L285.23 256.44 L285.75 256.15 L286.27 255.86 L286.79 255.56 L287.31 255.27 L287.83 254.97 L288.35 254.68 L288.87 254.38 L289.39 254.08 L289.91 253.78 L290.43 253.48 L290.95 253.18 L291.47 252.88 L291.99 252.58 L292.51 252.27 L293.03 251.97 L293.54 251.66 L294.06 251.36 L294.58 251.05 L295.1 250.74 L295.62 250.43 L296.14 250.12 L296.66 249.81 L297.18 249.5 L297.7 249.19 L298.22 248.88 L298.74 248.56 L299.26 248.25 L299.78 247.93 L300.3 247.61 L300.82 247.29 L301.34 246.98 L301.86 246.66 L302.38 246.33 L302.9 246.01 L303.42 245.69 L303.94 245.37 L304.45 245.04 L304.97 244.72 L305.49 244.39 L306.01 244.06 L306.53 243.73 L307.05 243.41 L307.57 243.08 L308.09 242.75 L308.61 242.41 L309.13 242.08 L309.65 241.75 L310.17 241.41 L310.69 241.08 L311.21 240.74 L311.73 240.4 L312.25 240.07 L312.77 239.73 L313.29 239.39 L313.81 239.05 L314.33 238.7 L314.85 238.36 L315.36 238.02 L315.88 237.67 L316.4 237.33 L316.92 236.98 L317.44 236.63 L317.96 236.29 L318.48 235.94 L319 235.59 L319.52 235.24 L320.04 234.88 L320.56 234.53 L321.08 234.18 L321.6 233.82 L322.12 233.47 L322.64 233.11 L323.16 232.75 L323.68 232.4 L324.2 232.04 L324.72 231.68 L325.24 231.31 L325.76 230.95 L326.27 230.59 L326.79 230.23 L327.31 229.86 L327.83 229.5" stroke="#e4332a" stroke-width="1.15" fill="none"/>
<path d="M255.1 278.94 L255.62 278.63 L256.14 278.31 L256.66 277.99 L257.18 277.67 L257.7 277.35 L258.22 277.02 L258.74 276.7 L259.26 276.37 L259.78 276.04 L260.3 275.71 L260.81 275.38 L261.33 275.04 L261.85 274.71 L262.37 274.37 L262.89 274.03 L263.41 273.7 L263.93 273.35 L264.45 273.01 L264.97 272.67 L265.49 272.32 L266.01 271.98 L266.53 271.63 L267.05 271.28 L267.57 270.93 L268.09 270.57 L268.61 270.22 L269.13 269.86 L269.65 269.51 L270.17 269.15 L270.69 268.79 L271.21 268.43 L271.72 268.06 L272.24 267.7 L272.76 267.33 L273.28 266.96 L273.8 266.6 L274.32 266.22 L274.84 265.85 L275.36 265.48 L275.88 265.1 L276.4 264.73 L276.92 264.35 L277.44 263.97 L277.96 263.59 L278.48 263.21 L279 262.82 L279.52 262.44 L280.04 262.05 L280.56 261.66 L281.08 261.27 L281.6 260.88 L282.12 260.49 L282.63 260.09 L283.15 259.69 L283.67 259.3 L284.19 258.9 L284.71 258.5 L285.23 258.1 L285.75 257.69 L286.27 257.29 L286.79 256.88 L287.31 256.47 L287.83 256.06 L288.35 255.65 L288.87 255.24 L289.39 254.82 L289.91 254.41 L290.43 253.99 L290.95 253.57 L291.47 253.15 L291.99 252.73 L292.51 252.31 L293.03 251.88 L293.54 251.46 L294.06 251.03 L294.58 250.6 L295.1 250.17 L295.62 249.74 L296.14 249.31 L296.66 248.87 L297.18 248.43 L297.7 248 L298.22 247.56 L298.74 247.12 L299.26 246.67 L299.78 246.23 L300.3 245.78 L300.82 245.34 L301.34 244.89 L301.86 244.44 L302.38 243.99 L302.9 243.53 L303.42 243.08 L303.94 242.62 L304.45 242.17 L304.97 241.71 L305.49 241.25 L306.01 240.79 L306.53 240.32 L307.05 239.86 L307.57 239.39 L308.09 238.92 L308.61 238.45 L309.13 237.98 L309.65 237.51 L310.17 237.04 L310.69 236.56 L311.21 236.08 L311.73 235.61 L312.25 235.13 L312.77 234.64 L313.29 234.16 L313.81 233.68 L314.33 233.19 L314.85 232.7 L315.36 232.22 L315.88 231.73 L316.4 231.23 L316.92 230.74 L317.44 230.25 L317.96 229.75 L318.48 229.25 L319 228.75 L319.52 228.25 L320.04 227.75 L320.56 227.25 L321.08 226.74 L321.6 226.23 L322.12 225.73 L322.64 225.22 L323.16 224.7 L323.68 224.19 L324.2 223.68 L324.72 223.16 L325.24 222.64 L325.76 222.13 L326.27 221.61 L326.79 221.08 L327.31 220.56 L327.83 220.04" stroke="#1f72e8" stroke-width="1.15" fill="none"/>
</g>
<clipPath id="c20"><rect x="327.33" y="290.43" width="69.73" height="73.43"/></clipPath><g clip-path="url(#c20)">
<path d="M357 362.17V321.17" stroke="#e4332a" stroke-width="1.15" stroke-dasharray="2.6 1.7" fill="none"/>
<path d="M375.9 362.17V324.91" stroke="#e4332a" stroke-width="1.15" stroke-dasharray="2.6 1.7" fill="none"/>
<path d="M325.83 361.84 L326.35 361.81 L326.87 361.78 L327.39 361.74 L327.91 361.7 L328.43 361.66 L328.95 361.61 L329.47 361.56 L329.99 361.5 L330.51 361.44 L331.03 361.37 L331.55 361.3 L332.07 361.21 L332.59 361.12 L333.11 361.02 L333.63 360.92 L334.15 360.8 L334.67 360.67 L335.18 360.53 L335.7 360.38 L336.22 360.21 L336.74 360.03 L337.26 359.83 L337.78 359.61 L338.3 359.37 L338.82 359.11 L339.34 358.83 L339.86 358.53 L340.38 358.19 L340.9 357.83 L341.42 357.44 L341.94 357.01 L342.46 356.55 L342.98 356.05 L343.5 355.52 L344.02 354.93 L344.54 354.31 L345.06 353.63 L345.58 352.91 L346.09 352.13 L346.61 351.3 L347.13 350.4 L347.65 349.45 L348.17 348.43 L348.69 347.35 L349.21 346.2 L349.73 344.99 L350.25 343.7 L350.77 342.34 L351.29 340.91 L351.81 339.42 L352.33 337.85 L352.85 336.22 L353.37 334.52 L353.89 332.75 L354.41 330.93 L354.93 329.06 L355.45 327.14 L355.97 325.17 L356.49 323.18 L357 321.15 L357.52 319.12 L358.04 317.07 L358.56 315.03 L359.08 313.01 L359.6 311.02 L360.12 309.07 L360.64 307.18 L361.16 305.36 L361.68 303.62 L362.2 301.98 L362.72 300.44 L363.24 299.03 L363.76 297.76 L364.28 296.63 L364.8 295.65 L365.32 294.84 L365.84 294.2 L366.36 293.74 L366.88 293.46 L367.4 293.37 L367.91 293.52 L368.43 294 L368.95 294.79 L369.47 295.88 L369.99 297.25 L370.51 298.89 L371.03 300.77 L371.55 302.87 L372.07 305.17 L372.59 307.62 L373.11 310.2 L373.63 312.88 L374.15 315.62 L374.67 318.39 L375.19 321.16 L375.71 323.9 L376.23 326.59 L376.75 329.19 L377.27 331.69 L377.79 334.08 L378.31 336.32 L378.82 338.42 L379.34 340.38 L379.86 342.19 L380.38 343.85 L380.9 345.38 L381.42 346.78 L381.94 348.07 L382.46 349.26 L382.98 350.37 L383.5 351.4 L384.02 352.37 L384.54 353.29 L385.06 354.16 L385.58 354.99 L386.1 355.78 L386.62 356.53 L387.14 357.23 L387.66 357.89 L388.18 358.5 L388.7 359.05 L389.22 359.55 L389.73 360 L390.25 360.39 L390.77 360.72 L391.29 361.01 L391.81 361.25 L392.33 361.45 L392.85 361.61 L393.37 361.74 L393.89 361.84 L394.41 361.92 L394.93 361.99 L395.45 362.03 L395.97 362.07 L396.49 362.09 L397.01 362.11 L397.53 362.13 L398.05 362.14 L398.57 362.15" stroke="#e4332a" stroke-width="1.15" fill="none"/>
<path d="M325.83 362.15 L326.35 362.15 L326.87 362.15 L327.39 362.14 L327.91 362.13 L328.43 362.13 L328.95 362.12 L329.47 362.11 L329.99 362.09 L330.51 362.08 L331.03 362.06 L331.55 362.04 L332.07 362.01 L332.59 361.98 L333.11 361.94 L333.63 361.89 L334.15 361.84 L334.67 361.78 L335.18 361.7 L335.7 361.62 L336.22 361.52 L336.74 361.41 L337.26 361.27 L337.78 361.12 L338.3 360.95 L338.82 360.75 L339.34 360.53 L339.86 360.27 L340.38 359.98 L340.9 359.66 L341.42 359.29 L341.94 358.88 L342.46 358.42 L342.98 357.91 L343.5 357.35 L344.02 356.73 L344.54 356.04 L345.06 355.29 L345.58 354.47 L346.09 353.58 L346.61 352.61 L347.13 351.57 L347.65 350.44 L348.17 349.24 L348.69 347.95 L349.21 346.57 L349.73 345.12 L350.25 343.58 L350.77 341.97 L351.29 340.27 L351.81 338.51 L352.33 336.68 L352.85 334.78 L353.37 332.84 L353.89 330.84 L354.41 328.81 L354.93 326.75 L355.45 324.67 L355.97 322.59 L356.49 320.51 L357 318.45 L357.52 316.42 L358.04 314.45 L358.56 312.53 L359.08 310.68 L359.6 308.92 L360.12 307.26 L360.64 305.72 L361.16 304.3 L361.68 303.02 L362.2 301.89 L362.72 300.92 L363.24 300.11 L363.76 299.48 L364.28 299.03 L364.8 298.75 L365.32 298.67 L365.84 298.77 L366.36 299.08 L366.88 299.59 L367.4 300.29 L367.91 301.18 L368.43 302.25 L368.95 303.48 L369.47 304.88 L369.99 306.41 L370.51 308.08 L371.03 309.87 L371.55 311.76 L372.07 313.73 L372.59 315.78 L373.11 317.88 L373.63 320.02 L374.15 322.18 L374.67 324.36 L375.19 326.53 L375.71 328.68 L376.23 330.8 L376.75 332.88 L377.27 334.91 L377.79 336.88 L378.31 338.79 L378.82 340.61 L379.34 342.36 L379.86 344.03 L380.38 345.61 L380.9 347.09 L381.42 348.49 L381.94 349.8 L382.46 351.02 L382.98 352.15 L383.5 353.19 L384.02 354.16 L384.54 355.04 L385.06 355.84 L385.58 356.57 L386.1 357.23 L386.62 357.83 L387.14 358.37 L387.66 358.85 L388.18 359.28 L388.7 359.66 L389.22 360 L389.73 360.3 L390.25 360.56 L390.77 360.79 L391.29 360.99 L391.81 361.17 L392.33 361.32 L392.85 361.45 L393.37 361.56 L393.89 361.66 L394.41 361.74 L394.93 361.81 L395.45 361.87 L395.97 361.92 L396.49 361.96 L397.01 362 L397.53 362.03 L398.05 362.05 L398.57 362.07" stroke="#111" stroke-width="1.15" fill="none" stroke-dasharray="3 2"/>
</g>
<clipPath id="c27"><rect x="398.07" y="362.67" width="69.73" height="73.43"/></clipPath><g clip-path="url(#c27)">
<path d="M424 434.4V396.34" stroke="#e4332a" stroke-width="1.15" stroke-dasharray="2.6 1.7" fill="none"/>
<path d="M442.4 434.4V394.69" stroke="#e4332a" stroke-width="1.15" stroke-dasharray="2.6 1.7" fill="none"/>
<path d="M396.57 432.61 L397.09 432.53 L397.61 432.43 L398.13 432.34 L398.64 432.23 L399.16 432.12 L399.68 432.01 L400.2 431.88 L400.72 431.75 L401.24 431.61 L401.76 431.47 L402.28 431.31 L402.8 431.14 L403.32 430.96 L403.84 430.77 L404.36 430.57 L404.88 430.35 L405.4 430.12 L405.92 429.88 L406.44 429.62 L406.96 429.34 L407.48 429.04 L408 428.72 L408.52 428.37 L409.04 428.01 L409.55 427.62 L410.07 427.2 L410.59 426.75 L411.11 426.27 L411.63 425.76 L412.15 425.21 L412.67 424.62 L413.19 423.99 L413.71 423.32 L414.23 422.6 L414.75 421.82 L415.27 421 L415.79 420.11 L416.31 419.17 L416.83 418.16 L417.35 417.09 L417.87 415.94 L418.39 414.72 L418.91 413.42 L419.43 412.05 L419.95 410.59 L420.46 409.04 L420.98 407.41 L421.5 405.7 L422.02 403.9 L422.54 402.02 L423.06 400.06 L423.58 398.03 L424.1 395.93 L424.62 393.77 L425.14 391.56 L425.66 389.33 L426.18 387.07 L426.7 384.82 L427.22 382.59 L427.74 380.4 L428.26 378.28 L428.78 376.26 L429.3 374.35 L429.82 372.6 L430.34 371.02 L430.86 369.64 L431.37 368.48 L431.89 367.56 L432.41 366.9 L432.93 366.51 L433.45 366.4 L433.97 366.57 L434.49 367.01 L435.01 367.73 L435.53 368.69 L436.05 369.9 L436.57 371.32 L437.09 372.94 L437.61 374.73 L438.13 376.66 L438.65 378.7 L439.17 380.84 L439.69 383.04 L440.21 385.28 L440.73 387.53 L441.25 389.78 L441.77 392.02 L442.28 394.21 L442.8 396.36 L443.32 398.45 L443.84 400.47 L444.36 402.41 L444.88 404.27 L445.4 406.05 L445.92 407.75 L446.44 409.36 L446.96 410.89 L447.48 412.33 L448 413.69 L448.52 414.98 L449.04 416.18 L449.56 417.31 L450.08 418.37 L450.6 419.37 L451.12 420.3 L451.64 421.17 L452.16 421.99 L452.68 422.75 L453.19 423.46 L453.71 424.12 L454.23 424.75 L454.75 425.33 L455.27 425.87 L455.79 426.37 L456.31 426.85 L456.83 427.29 L457.35 427.7 L457.87 428.09 L458.39 428.45 L458.91 428.78 L459.43 429.1 L459.95 429.39 L460.47 429.67 L460.99 429.93 L461.51 430.17 L462.03 430.4 L462.55 430.61 L463.07 430.81 L463.59 431 L464.1 431.18 L464.62 431.34 L465.14 431.5 L465.66 431.64 L466.18 431.78 L466.7 431.91 L467.22 432.03 L467.74 432.15 L468.26 432.26 L468.78 432.36 L469.3 432.45" stroke="#e4332a" stroke-width="1.15" fill="none"/>
<path d="M396.57 432.96 L397.09 432.87 L397.61 432.79 L398.13 432.69 L398.64 432.59 L399.16 432.48 L399.68 432.37 L400.2 432.25 L400.72 432.12 L401.24 431.98 L401.76 431.83 L402.28 431.67 L402.8 431.5 L403.32 431.32 L403.84 431.12 L404.36 430.91 L404.88 430.69 L405.4 430.45 L405.92 430.19 L406.44 429.91 L406.96 429.61 L407.48 429.3 L408 428.95 L408.52 428.59 L409.04 428.19 L409.55 427.77 L410.07 427.32 L410.59 426.83 L411.11 426.31 L411.63 425.75 L412.15 425.15 L412.67 424.5 L413.19 423.81 L413.71 423.08 L414.23 422.28 L414.75 421.44 L415.27 420.53 L415.79 419.57 L416.31 418.54 L416.83 417.44 L417.35 416.27 L417.87 415.03 L418.39 413.71 L418.91 412.31 L419.43 410.84 L419.95 409.29 L420.46 407.65 L420.98 405.94 L421.5 404.15 L422.02 402.29 L422.54 400.35 L423.06 398.35 L423.58 396.29 L424.1 394.19 L424.62 392.04 L425.14 389.87 L425.66 387.68 L426.18 385.5 L426.7 383.34 L427.22 381.22 L427.74 379.16 L428.26 377.18 L428.78 375.31 L429.3 373.56 L429.82 371.96 L430.34 370.53 L430.86 369.29 L431.37 368.25 L431.89 367.43 L432.41 366.85 L432.93 366.5 L433.45 366.4 L433.97 366.55 L434.49 366.95 L435.01 367.58 L435.53 368.44 L436.05 369.53 L436.57 370.81 L437.09 372.28 L437.61 373.91 L438.13 375.68 L438.65 377.58 L439.17 379.57 L439.69 381.65 L440.21 383.78 L440.73 385.94 L441.25 388.13 L441.77 390.31 L442.28 392.48 L442.8 394.62 L443.32 396.72 L443.84 398.76 L444.36 400.75 L444.88 402.67 L445.4 404.52 L445.92 406.3 L446.44 407.99 L446.96 409.61 L447.48 411.15 L448 412.61 L448.52 413.98 L449.04 415.29 L449.56 416.51 L450.08 417.67 L450.6 418.75 L451.12 419.77 L451.64 420.72 L452.16 421.61 L452.68 422.45 L453.19 423.23 L453.71 423.96 L454.23 424.64 L454.75 425.27 L455.27 425.87 L455.79 426.42 L456.31 426.93 L456.83 427.41 L457.35 427.86 L457.87 428.28 L458.39 428.66 L458.91 429.03 L459.43 429.36 L459.95 429.68 L460.47 429.97 L460.99 430.24 L461.51 430.5 L462.03 430.73 L462.55 430.96 L463.07 431.16 L463.59 431.35 L464.1 431.54 L464.62 431.7 L465.14 431.86 L465.66 432.01 L466.18 432.15 L466.7 432.27 L467.22 432.39 L467.74 432.51 L468.26 432.61 L468.78 432.71 L469.3 432.8" stroke="#111" stroke-width="1.15" fill="none" stroke-dasharray="3 2"/>
</g>
<text x="67.71" y="446.1" font-size="11.8" text-anchor="middle" textLength="16.2" lengthAdjust="spacingAndGlyphs">−1</text>
<text x="90.82" y="446.1" font-size="11.8" text-anchor="middle">0</text>
<text x="78.4" y="458.6" font-size="12.5" text-anchor="middle" textLength="75.3" lengthAdjust="spacingAndGlyphs">log<tspan font-size="8.8" dy="2.9">10</tspan><tspan dy="-2.9"> </tspan><tspan font-style="italic">T</tspan><tspan font-size="10.5" dy="5">*</tspan><tspan dy="-5">/GeV</tspan></text>
<text x="138.44" y="446.1" font-size="11.8" text-anchor="middle" textLength="16.2" lengthAdjust="spacingAndGlyphs">−2</text>
<text x="161.56" y="446.1" font-size="11.8" text-anchor="middle" textLength="16.2" lengthAdjust="spacingAndGlyphs">−1</text>
<text x="149.45" y="458.6" font-size="12.5" text-anchor="middle" textLength="44.3" lengthAdjust="spacingAndGlyphs">log<tspan font-size="8.8" dy="2.9">10</tspan><tspan dy="-2.9"> </tspan><tspan font-style="italic">α</tspan><tspan font-size="10.5" dy="5">*</tspan></text>
<text x="199.51" y="446.1" font-size="11.8" text-anchor="middle" textLength="15.5" lengthAdjust="spacingAndGlyphs">0.6</text>
<text x="227.81" y="446.1" font-size="11.8" text-anchor="middle" textLength="15.5" lengthAdjust="spacingAndGlyphs">0.8</text>
<text x="220.7" y="458.6" font-size="12.5" text-anchor="middle"><tspan font-style="italic">b</tspan></text>
<text x="274.44" y="446.1" font-size="11.8" text-anchor="middle">1</text>
<text x="300.64" y="446.1" font-size="11.8" text-anchor="middle">2</text>
<text x="291.5" y="458.6" font-size="12.5" text-anchor="middle"><tspan font-style="italic">c</tspan></text>
<text x="339.04" y="446.1" font-size="11.8" text-anchor="middle" textLength="22.6" lengthAdjust="spacingAndGlyphs">−17</text>
<text x="377.17" y="446.1" font-size="11.8" text-anchor="middle" textLength="22.6" lengthAdjust="spacingAndGlyphs">−15</text>
<text x="362.8" y="458.6" font-size="12.5" text-anchor="middle" textLength="65.2" lengthAdjust="spacingAndGlyphs">log<tspan font-size="8.8" dy="2.9">10</tspan><tspan dy="-2.9"> </tspan><tspan font-style="italic">A</tspan><tspan font-size="8.8" dy="2.9">BHB</tspan></text>
<text x="415.57" y="446.1" font-size="11.8" text-anchor="middle">4</text>
<text x="441.29" y="446.1" font-size="11.8" text-anchor="middle">5</text>
<text x="433.6" y="458.6" font-size="12.5" text-anchor="middle" textLength="29.9" lengthAdjust="spacingAndGlyphs"><tspan font-style="italic">γ</tspan><tspan font-size="8.8" dy="2.9">BHB</tspan></text>
<text x="40.6" y="125.45" font-size="11.8" text-anchor="end" textLength="16.2" lengthAdjust="spacingAndGlyphs">−2</text>
<text x="40.6" y="101.85" font-size="11.8" text-anchor="end" textLength="16.2" lengthAdjust="spacingAndGlyphs">−1</text>
<text x="9" y="109.4" font-size="12.5" text-anchor="middle" transform="rotate(-90 9 109.4)" textLength="44.3" lengthAdjust="spacingAndGlyphs">log<tspan font-size="8.8" dy="2.9">10</tspan><tspan dy="-2.9"> </tspan><tspan font-style="italic">α</tspan><tspan font-size="10.5" dy="5">*</tspan></text>
<text x="40.6" y="207.55" font-size="11.8" text-anchor="end" textLength="15.5" lengthAdjust="spacingAndGlyphs">0.6</text>
<text x="40.6" y="178.66" font-size="11.8" text-anchor="end" textLength="15.5" lengthAdjust="spacingAndGlyphs">0.8</text>
<text x="9" y="181.3" font-size="12.5" text-anchor="middle" transform="rotate(-90 9 181.3)"><tspan font-style="italic">b</tspan></text>
<text x="40.6" y="275.51" font-size="11.8" text-anchor="end">1</text>
<text x="40.6" y="248.75" font-size="11.8" text-anchor="end">2</text>
<text x="9" y="253.5" font-size="12.5" text-anchor="middle" transform="rotate(-90 9 253.5)"><tspan font-style="italic">c</tspan></text>
<text x="40.6" y="315.07" font-size="11.8" text-anchor="end" textLength="22.6" lengthAdjust="spacingAndGlyphs">−15</text>
<text x="40.6" y="334.54" font-size="11.8" text-anchor="end" textLength="22.6" lengthAdjust="spacingAndGlyphs">−16</text>
<text x="40.6" y="354.01" font-size="11.8" text-anchor="end" textLength="22.6" lengthAdjust="spacingAndGlyphs">−17</text>
<text x="9" y="326.35" font-size="12.5" text-anchor="middle" transform="rotate(-90 9 326.35)" textLength="65.2" lengthAdjust="spacingAndGlyphs">log<tspan font-size="8.8" dy="2.9">10</tspan><tspan dy="-2.9"> </tspan><tspan font-style="italic">A</tspan><tspan font-size="8.8" dy="2.9">BHB</tspan></text>
<text x="40.6" y="420.31" font-size="11.8" text-anchor="end">4</text>
<text x="40.6" y="394.05" font-size="11.8" text-anchor="end">5</text>
<text x="9" y="398.65" font-size="12.5" text-anchor="middle" transform="rotate(-90 9 398.65)" textLength="29.9" lengthAdjust="spacingAndGlyphs"><tspan font-style="italic">γ</tspan><tspan font-size="8.8" dy="2.9">BHB</tspan></text>
<path d="M49.39 557.95v-4.8M49.39 485.7v4.8M53.85 557.95v-2.6M53.85 485.7v2.6M58.32 557.95v-2.6M58.32 485.7v2.6M62.79 557.95v-2.6M62.79 485.7v2.6M67.26 557.95v-2.6M67.26 485.7v2.6M71.72 557.95v-4.8M71.72 485.7v4.8M76.19 557.95v-2.6M76.19 485.7v2.6M80.66 557.95v-2.6M80.66 485.7v2.6M85.12 557.95v-2.6M85.12 485.7v2.6M89.59 557.95v-2.6M89.59 485.7v2.6M94.06 557.95v-4.8M94.06 485.7v4.8M98.52 557.95v-2.6M98.52 485.7v2.6M102.99 557.95v-2.6M102.99 485.7v2.6M107.46 557.95v-2.6M107.46 485.7v2.6M111.93 557.95v-2.6M111.93 485.7v2.6M116.39 557.95v-4.8M116.39 485.7v4.8" stroke="#000" stroke-width="0.9" fill="none"/>
<rect x="47.6" y="485.7" width="70.13" height="72.25" fill="none" stroke="#000" stroke-width="1"/>
<clipPath id="c30"><rect x="47.6" y="557.95" width="70.13" height="72.25"/></clipPath><g clip-path="url(#c30)">
<rect x="47.6" y="557.9" width="70.1" height="72.30000000000007" fill="#f2aea6"/>
<path d="M46 570 L58.5 570 C58.88 571.95 60.67 573.92 60.8 575.2C60.93 576.48 59.3 577.72 59.3 579C59.3 580.28 60.73 581.62 60.8 582.9C60.87 584.18 59.7 585.55 59.7 586.7C59.7 587.85 61 588.92 60.8 589.8C60.6 590.68 59.47 591.38 58.5 592C57.53 592.62 56.08 592.83 55 593.5C53.92 594.17 53 595.42 52 596C51 596.58 50 596.83 49 597C48 597.17 46.5 597 46 597 Z" fill="#fff" stroke="#ea7a6c" stroke-width="0.8" />
<path d="M46 556C47.26 556 57.37 555.3 58.6 556C59.83 556.7 58.39 561.47 58.3 563C58.21 564.53 57.99 570 57.7 571.3C57.41 572.6 56.09 575.3 55.4 576C54.71 576.7 51.74 577.98 50.8 578.3C49.86 578.62 46.48 579.11 46 579.2Z" fill="#e8e8e8" stroke="#777" stroke-width="0.6" />
<text x="0" y="0" font-size="7.5" style="fill:#8c8c8c" textLength="15" lengthAdjust="spacingAndGlyphs" transform="translate(55.8 575.5) rotate(-82)">NG15</text>
<path d="M54.58 589C54.6 589.32 53.73 589.71 52.97 589.99C52.21 590.27 50.8 590.78 50.03 590.7C49.25 590.62 48.77 589.92 48.32 589.52C47.87 589.11 47.01 588.62 47.32 588.29C47.63 587.97 49.26 587.6 50.18 587.57C51.1 587.53 52.1 587.84 52.83 588.08C53.57 588.32 54.55 588.68 54.58 589Z" fill="#fff" stroke="#ea7a6c" stroke-width="0.75" />
<path d="M55.02 595C54.78 595.38 53.27 595.61 52.25 595.85C51.24 596.08 49.86 596.46 48.93 596.4C48 596.34 47.05 595.8 46.66 595.48C46.27 595.17 46.22 594.82 46.6 594.51C46.98 594.2 47.75 593.76 48.94 593.6C50.13 593.45 52.71 593.36 53.73 593.6C54.74 593.83 55.27 594.62 55.02 595Z" fill="none" stroke="#ea7a6c" stroke-width="0.75" />
<path d="M59.87 599C59.64 599.5 59.44 599.86 58.6 600.17C57.75 600.49 56.19 600.92 54.8 600.89C53.42 600.86 50.87 600.44 50.29 599.99C49.7 599.54 50.51 598.62 51.29 598.18C52.07 597.74 53.5 597.52 54.96 597.35C56.41 597.19 59.19 596.92 60.01 597.19C60.83 597.46 60.11 598.5 59.87 599Z" fill="#fff" stroke="#ea7a6c" stroke-width="0.75" />
<path d="M54.91 603.5C54.92 603.94 55.65 604.63 55.03 604.83C54.42 605.03 52.2 604.83 51.22 604.69C50.24 604.55 49.5 604.25 49.17 603.98C48.83 603.7 48.88 603.31 49.22 603.03C49.56 602.75 50.25 602.43 51.21 602.29C52.17 602.15 54.35 602 54.97 602.2C55.58 602.4 54.9 603.06 54.91 603.5Z" fill="none" stroke="#ea7a6c" stroke-width="0.75" />
<path d="M62.85 607C63.05 607.37 62.97 608.03 61.92 608.31C60.87 608.59 58.04 608.8 56.55 608.69C55.07 608.58 53.69 608.04 53.01 607.64C52.32 607.24 51.77 606.58 52.44 606.29C53.11 605.99 55.63 605.88 57.02 605.85C58.4 605.81 59.78 605.89 60.75 606.08C61.73 606.27 62.66 606.63 62.85 607Z" fill="none" stroke="#ea7a6c" stroke-width="0.75" />
<path d="M56.12 611C56.24 611.39 56.32 612.07 55.45 612.3C54.59 612.53 52.18 612.52 50.94 612.4C49.69 612.28 48.61 611.93 48 611.58C47.39 611.23 46.78 610.65 47.26 610.32C47.75 609.98 49.67 609.64 50.92 609.58C52.17 609.52 53.88 609.73 54.74 609.97C55.61 610.21 56 610.61 56.12 611Z" fill="#fff" stroke="#ea7a6c" stroke-width="0.75" />
<path d="M67.06 614.5C67.05 615 65.55 615.75 64.19 615.99C62.82 616.22 60.51 616.02 58.87 615.9C57.23 615.78 55.08 615.63 54.35 615.27C53.63 614.91 53.84 614.22 54.51 613.75C55.18 613.28 56.74 612.6 58.36 612.47C59.99 612.34 62.81 612.65 64.26 612.99C65.71 613.33 67.07 614 67.06 614.5Z" fill="none" stroke="#ea7a6c" stroke-width="0.75" />
<path d="M57.36 619C57.52 619.48 57.89 620.41 57.02 620.61C56.15 620.81 53.53 620.36 52.14 620.2C50.76 620.04 49.44 619.99 48.72 619.66C47.99 619.33 47.23 618.51 47.8 618.2C48.37 617.88 50.74 617.84 52.12 617.77C53.5 617.69 55.22 617.55 56.1 617.76C56.97 617.96 57.21 618.52 57.36 619Z" fill="none" stroke="#ea7a6c" stroke-width="0.75" />
<path d="M66.34 622C66.33 622.43 67.1 623.01 66.12 623.29C65.14 623.57 62.08 623.8 60.45 623.69C58.83 623.59 57.2 623.09 56.36 622.68C55.51 622.26 54.63 621.53 55.38 621.2C56.12 620.87 59.01 620.79 60.81 620.7C62.61 620.62 65.26 620.47 66.18 620.69C67.1 620.91 66.35 621.57 66.34 622Z" fill="none" stroke="#ea7a6c" stroke-width="0.75" />
<path d="M61.34 626C61.31 626.45 60.19 627.06 58.92 627.31C57.65 627.56 55.44 627.6 53.7 627.52C51.96 627.44 49.42 627.24 48.49 626.84C47.57 626.44 47.29 625.52 48.15 625.12C49.02 624.73 51.86 624.55 53.69 624.46C55.51 624.38 57.83 624.37 59.11 624.63C60.39 624.88 61.37 625.55 61.34 626Z" fill="none" stroke="#ea7a6c" stroke-width="0.75" />
<path d="M91.42 590C91.54 590.64 92.17 591.68 91.19 592.1C90.21 592.53 87.41 592.67 85.55 592.55C83.68 592.42 80.83 591.98 79.99 591.35C79.16 590.72 79.58 589.32 80.55 588.76C81.52 588.19 84.18 588.05 85.84 587.96C87.49 587.88 89.55 587.91 90.48 588.25C91.41 588.59 91.3 589.36 91.42 590Z" fill="#fff" stroke="#ea7a6c" stroke-width="0.75" />
<path d="M93.91 593C93.49 593.78 89.98 594.28 88 594.79C86.03 595.29 83.79 596.16 82.04 596.05C80.29 595.94 78.22 594.8 77.51 594.11C76.79 593.43 76.92 592.5 77.75 591.93C78.59 591.36 80.4 591.01 82.53 590.71C84.65 590.4 88.62 589.71 90.51 590.1C92.41 590.48 94.33 592.22 93.91 593Z" fill="none" stroke="#ea7a6c" stroke-width="0.75" />
<path d="M100.83 575.7C100.78 576.04 100.58 576.42 100.09 576.63C99.59 576.84 98.69 577.01 97.88 576.98C97.06 576.94 95.43 576.73 95.19 576.44C94.96 576.15 96.03 575.59 96.48 575.25C96.92 574.9 97.19 574.49 97.85 574.38C98.51 574.26 99.93 574.35 100.43 574.57C100.92 574.79 100.89 575.36 100.83 575.7Z" fill="#fff" stroke="#ea7a6c" stroke-width="0.75" />
<path d="M104.31 585.5C104.29 586 103.48 586.67 102.6 586.99C101.72 587.31 99.94 587.55 99.05 587.4C98.16 587.25 97.61 586.53 97.27 586.1C96.93 585.68 96.67 585.18 97.01 584.84C97.34 584.5 98.34 584.22 99.29 584.07C100.23 583.93 101.85 583.72 102.69 583.96C103.52 584.2 104.32 585 104.31 585.5Z" fill="#fff" stroke="#ea7a6c" stroke-width="0.75" />
<path d="M109.1 580C108.99 580.36 106.94 580.73 105.97 580.93C105 581.12 104.12 581.24 103.28 581.18C102.45 581.11 101.36 580.83 100.98 580.55C100.59 580.26 100.62 579.79 100.97 579.45C101.33 579.12 102.18 578.67 103.12 578.55C104.06 578.44 105.63 578.52 106.63 578.76C107.62 579.01 109.21 579.64 109.1 580Z" fill="none" stroke="#ea7a6c" stroke-width="0.75" />
<path d="M113.07 572.5C112.94 572.83 112.35 573.05 111.81 573.27C111.28 573.49 110.5 573.83 109.86 573.8C109.23 573.76 108.37 573.38 108.01 573.06C107.65 572.74 107.42 572.25 107.69 571.87C107.96 571.49 108.84 570.86 109.65 570.76C110.47 570.67 112.01 570.99 112.58 571.28C113.15 571.57 113.2 572.17 113.07 572.5Z" fill="#fff" stroke="#ea7a6c" stroke-width="0.75" />
<path d="M103.83 595.4C103.78 595.79 103.43 596.25 102.8 596.49C102.17 596.72 100.73 596.91 100.06 596.8C99.4 596.69 99.26 596.16 98.82 595.81C98.38 595.46 97.25 595.02 97.45 594.7C97.65 594.39 99.08 594.01 100.02 593.92C100.96 593.83 102.46 593.91 103.09 594.16C103.73 594.4 103.88 595.01 103.83 595.4Z" fill="#fff" stroke="#ea7a6c" stroke-width="0.75" />
<path d="M102.07 597C102.19 597.55 99.89 598.45 98.5 598.83C97.11 599.21 95.02 599.46 93.75 599.29C92.48 599.12 91.64 598.4 90.88 597.83C90.12 597.25 88.64 596.27 89.16 595.83C89.68 595.39 92.58 595.25 94.02 595.2C95.45 595.16 96.43 595.25 97.77 595.55C99.11 595.85 101.95 596.45 102.07 597Z" fill="none" stroke="#ea7a6c" stroke-width="0.75" />
<path d="M111.99 600C112 600.41 111.44 600.95 110.84 601.25C110.24 601.54 109.07 601.86 108.4 601.76C107.72 601.66 107.04 601.03 106.79 600.63C106.54 600.24 106.61 599.76 106.89 599.39C107.17 599.03 107.84 598.56 108.48 598.46C109.13 598.36 110.18 598.55 110.76 598.81C111.34 599.07 111.98 599.59 111.99 600Z" fill="#fff" stroke="#ea7a6c" stroke-width="0.75" />
<path d="M111.51 604C111.39 604.47 109.87 604.79 108.68 605.23C107.49 605.67 105.77 606.66 104.37 606.63C102.96 606.59 100.66 605.58 100.22 605.02C99.79 604.46 100.96 603.72 101.73 603.25C102.51 602.77 103.59 602.31 104.86 602.17C106.14 602.04 108.29 602.13 109.4 602.44C110.51 602.74 111.63 603.53 111.51 604Z" fill="none" stroke="#ea7a6c" stroke-width="0.75" />
<path d="M95.26 601.5C95.26 601.78 94.54 602.07 93.95 602.35C93.35 602.62 92.52 603.16 91.69 603.15C90.87 603.14 89.3 602.66 89 602.29C88.69 601.91 89.38 601.26 89.85 600.9C90.33 600.55 91.16 600.19 91.84 600.15C92.51 600.11 93.34 600.45 93.91 600.68C94.48 600.9 95.25 601.22 95.26 601.5Z" fill="#fff" stroke="#ea7a6c" stroke-width="0.75" />
<path d="M78.4 605.2C78.31 605.6 78.31 606 77.91 606.19C77.51 606.39 76.71 606.42 76.02 606.37C75.34 606.33 74.02 606.2 73.8 605.93C73.58 605.65 74.32 605 74.71 604.72C75.09 604.43 75.47 604.38 76.1 604.23C76.73 604.07 78.1 603.65 78.48 603.81C78.86 603.97 78.5 604.8 78.4 605.2Z" fill="#fff" stroke="#ea7a6c" stroke-width="0.75" />
<path d="M76.07 600C75.89 600.39 74.8 600.67 73.97 600.92C73.13 601.17 71.84 601.58 71.09 601.5C70.33 601.42 69.88 600.83 69.42 600.47C68.96 600.11 68.1 599.73 68.34 599.34C68.57 598.95 69.74 598.25 70.85 598.12C71.97 597.99 74.17 598.26 75.04 598.57C75.91 598.89 76.25 599.61 76.07 600Z" fill="none" stroke="#ea7a6c" stroke-width="0.75" />
<path d="M94.99 614.3C94.83 614.7 93.17 615.08 92.07 615.3C90.97 615.53 89.42 615.73 88.38 615.65C87.33 615.56 86.5 615.17 85.8 614.82C85.09 614.47 83.75 613.88 84.16 613.54C84.57 613.21 86.79 612.91 88.27 612.81C89.75 612.71 91.92 612.68 93.04 612.93C94.16 613.18 95.15 613.9 94.99 614.3Z" fill="#fff" stroke="#ea7a6c" stroke-width="0.75" />
<path d="M93.08 617C92.75 617.74 91.42 618.29 89.68 618.83C87.94 619.37 85.15 620.28 82.62 620.24C80.1 620.2 75.77 619.35 74.53 618.57C73.29 617.78 73.83 616.33 75.18 615.53C76.53 614.73 79.88 613.96 82.63 613.77C85.38 613.58 89.94 613.85 91.68 614.39C93.42 614.93 93.41 616.26 93.08 617Z" fill="none" stroke="#ea7a6c" stroke-width="0.75" />
<path d="M79.36 618.9C79.35 619.19 78.37 619.54 77.8 619.75C77.23 619.96 76.5 620.24 75.94 620.18C75.38 620.13 74.62 619.7 74.44 619.42C74.27 619.13 74.61 618.73 74.88 618.5C75.16 618.26 75.61 618.07 76.1 617.99C76.6 617.91 77.31 617.87 77.85 618.02C78.4 618.17 79.37 618.61 79.36 618.9Z" fill="#fff" stroke="#ea7a6c" stroke-width="0.75" />
<path d="M64.77 601.5C64.72 601.87 64.86 602.3 64.29 602.55C63.72 602.79 62.13 603.08 61.35 602.99C60.57 602.9 60.01 602.36 59.58 602C59.16 601.65 58.5 601.18 58.79 600.84C59.08 600.51 60.37 600.08 61.34 599.99C62.3 599.9 64.01 600.05 64.58 600.31C65.15 600.56 64.82 601.13 64.77 601.5Z" fill="#fff" stroke="#ea7a6c" stroke-width="0.75" />
<path d="M71.68 592C71.51 592.41 70.81 592.77 70.08 592.98C69.34 593.18 68.09 593.3 67.26 593.22C66.42 593.15 65.42 592.83 65.05 592.53C64.68 592.24 64.7 591.82 65.04 591.46C65.37 591.11 66.03 590.58 67.04 590.43C68.05 590.28 70.32 590.28 71.09 590.55C71.86 590.81 71.84 591.59 71.68 592Z" fill="none" stroke="#ea7a6c" stroke-width="0.75" />
<path d="M109.02 612C108.89 612.52 107.29 613.07 106.08 613.39C104.87 613.71 103.18 613.99 101.79 613.92C100.39 613.84 98.05 613.34 97.69 612.92C97.32 612.5 98.93 611.89 99.62 611.41C100.3 610.94 100.57 610.27 101.78 610.08C102.99 609.88 105.68 609.93 106.88 610.25C108.09 610.57 109.16 611.48 109.02 612Z" fill="none" stroke="#ea7a6c" stroke-width="0.75" />
<path d="M116.68 616C116.66 616.49 115.79 617.18 114.87 617.44C113.94 617.7 112.08 617.69 111.12 617.54C110.16 617.39 109.65 616.95 109.09 616.56C108.53 616.17 107.42 615.51 107.77 615.19C108.12 614.86 110 614.71 111.2 614.6C112.39 614.49 114.03 614.29 114.94 614.52C115.86 614.76 116.69 615.51 116.68 616Z" fill="none" stroke="#ea7a6c" stroke-width="0.75" />
<path d="M104.98 622C105.1 622.45 101.83 623.16 100.09 623.47C98.35 623.77 96.55 623.9 94.53 623.83C92.52 623.77 88.95 623.57 88 623.1C87.05 622.63 87.72 621.46 88.84 621.02C89.97 620.57 92.99 620.47 94.75 620.44C96.51 620.4 97.68 620.53 99.39 620.79C101.09 621.05 104.86 621.55 104.98 622Z" fill="none" stroke="#ea7a6c" stroke-width="0.75" />
<path d="M84.74 626C84.84 626.49 85.7 627.25 84.65 627.55C83.6 627.86 79.9 628.01 78.42 627.85C76.93 627.68 76.56 626.99 75.74 626.55C74.93 626.1 73.11 625.6 73.54 625.17C73.96 624.74 76.52 624.08 78.28 623.99C80.04 623.9 83.02 624.3 84.09 624.63C85.17 624.97 84.65 625.51 84.74 626Z" fill="none" stroke="#ea7a6c" stroke-width="0.75" />
<path d="M112.55 626C112.56 626.43 112.11 627.09 111.21 627.29C110.31 627.49 108.2 627.35 107.13 627.21C106.07 627.08 105.63 626.84 104.81 626.49C103.99 626.14 101.89 625.47 102.22 625.11C102.55 624.74 105.3 624.36 106.79 624.3C108.28 624.24 110.21 624.45 111.17 624.73C112.13 625.01 112.54 625.57 112.55 626Z" fill="none" stroke="#ea7a6c" stroke-width="0.75" />
<path d="M117.41 588C117.44 588.38 115.99 588.88 115.1 589.2C114.2 589.52 113.03 589.97 112.05 589.91C111.07 589.85 109.51 589.24 109.23 588.83C108.95 588.42 109.88 587.79 110.39 587.43C110.91 587.07 111.58 586.76 112.34 586.67C113.09 586.59 114.07 586.68 114.91 586.9C115.76 587.13 117.38 587.62 117.41 588Z" fill="none" stroke="#ea7a6c" stroke-width="0.75" />
<path d="M92.53 579C92.58 579.33 92.48 579.89 91.97 580.07C91.45 580.25 90.19 580.17 89.43 580.08C88.67 580 87.68 579.79 87.43 579.54C87.17 579.28 87.61 578.91 87.9 578.56C88.19 578.21 88.53 577.5 89.17 577.42C89.8 577.34 91.15 577.81 91.71 578.07C92.27 578.34 92.49 578.67 92.53 579Z" fill="none" stroke="#ea7a6c" stroke-width="0.75" />
<path d="M82.92 583C82.93 583.32 82.59 583.74 81.96 583.99C81.34 584.23 79.93 584.54 79.17 584.45C78.41 584.37 77.85 583.85 77.43 583.5C77 583.15 76.3 582.63 76.62 582.35C76.94 582.07 78.45 581.88 79.33 581.83C80.21 581.78 81.31 581.85 81.91 582.04C82.51 582.24 82.92 582.68 82.92 583Z" fill="none" stroke="#ea7a6c" stroke-width="0.75" />
<path d="M74.06 626C74.02 626.28 72.59 626.56 71.77 626.78C70.95 627 69.92 627.36 69.14 627.32C68.36 627.27 67.36 626.78 67.08 626.49C66.8 626.2 67.16 625.92 67.47 625.57C67.78 625.22 68.19 624.47 68.95 624.39C69.71 624.31 71.15 624.85 72 625.12C72.85 625.39 74.09 625.72 74.06 626Z" fill="none" stroke="#ea7a6c" stroke-width="0.75" />
<path d="M117.95 608C117.94 608.45 117.73 609.08 117.12 609.33C116.52 609.58 115.07 609.64 114.31 609.51C113.55 609.39 112.92 608.94 112.58 608.58C112.24 608.22 111.98 607.69 112.27 607.34C112.56 606.99 113.49 606.61 114.31 606.49C115.13 606.37 116.58 606.38 117.19 606.63C117.8 606.88 117.96 607.55 117.95 608Z" fill="none" stroke="#ea7a6c" stroke-width="0.75" />
<path d="M46 588C47.17 587.17 51.17 587.58 53 588C54.83 588.42 57.17 589.75 57 590.5C56.83 591.25 53.83 592.08 52 592.5C50.17 592.92 47 593.75 46 593C45 592.25 44.83 588.83 46 588Z" fill="#fff" stroke="#ea7a6c" stroke-width="0.7" />
<path d="M46 598C46.67 597.25 49 597.17 50 597.5C51 597.83 52.33 599.25 52 600C51.67 600.75 49 601.67 48 602C47 602.33 46.33 602.67 46 602C45.67 601.33 45.33 598.75 46 598Z" fill="#fff" stroke="#ea7a6c" stroke-width="0.7" />
<path d="M61.2 554C61.22 554.58 61.22 555.18 61.3 557.5C61.38 559.82 61.13 565.42 61.7 567.9C62.27 570.38 63.33 571.47 64.7 572.4C66.07 573.33 68.03 573.75 69.9 573.5C71.77 573.25 74.15 572.2 75.9 570.9C77.65 569.6 79.15 567.93 80.4 565.7C81.65 563.47 82.83 559.45 83.4 557.5C83.97 555.55 83.73 554.58 83.8 554Z" fill="#e13223" />
<path d="M63.1 554C63.12 554.58 62.93 555.43 63.2 557.5C63.47 559.57 63.83 564.48 64.7 566.4C65.57 568.32 66.9 568.75 68.4 569C69.9 569.25 71.95 568.83 73.7 567.9C75.45 566.97 77.67 565.13 78.9 563.4C80.13 561.67 80.67 559.07 81.1 557.5C81.53 555.93 81.43 554.58 81.5 554Z" fill="#b0abd6" stroke="#6f9be8" stroke-width="0.6" />
<path d="M64.6 554C64.62 554.58 64.18 556.05 64.7 557.5C65.22 558.95 66.58 561.72 67.7 562.7C68.82 563.68 70.03 563.52 71.4 563.4C72.77 563.28 74.65 562.87 75.9 562C77.15 561.13 78.35 559.53 78.9 558.2C79.45 556.87 79.15 554.7 79.2 554Z" fill="#2d62c8" stroke="#6f9be8" stroke-width="0.5" />
</g>
<path d="M49.39 630.2v-4.8M49.39 557.95v4.8M53.85 630.2v-2.6M53.85 557.95v2.6M58.32 630.2v-2.6M58.32 557.95v2.6M62.79 630.2v-2.6M62.79 557.95v2.6M67.26 630.2v-2.6M67.26 557.95v2.6M71.72 630.2v-4.8M71.72 557.95v4.8M76.19 630.2v-2.6M76.19 557.95v2.6M80.66 630.2v-2.6M80.66 557.95v2.6M85.12 630.2v-2.6M85.12 557.95v2.6M89.59 630.2v-2.6M89.59 557.95v2.6M94.06 630.2v-4.8M94.06 557.95v4.8M98.52 630.2v-2.6M98.52 557.95v2.6M102.99 630.2v-2.6M102.99 557.95v2.6M107.46 630.2v-2.6M107.46 557.95v2.6M111.93 630.2v-2.6M111.93 557.95v2.6M116.39 630.2v-4.8M116.39 557.95v4.8M47.6 625.68h2.6M117.73 625.68h-2.6M47.6 621.17h2.6M117.73 621.17h-2.6M47.6 616.65h2.6M117.73 616.65h-2.6M47.6 612.14h2.6M117.73 612.14h-2.6M47.6 607.62h4.8M117.73 607.62h-4.8M47.6 603.11h2.6M117.73 603.11h-2.6M47.6 598.59h2.6M117.73 598.59h-2.6M47.6 594.08h2.6M117.73 594.08h-2.6M47.6 589.56h2.6M117.73 589.56h-2.6M47.6 585.04h4.8M117.73 585.04h-4.8M47.6 580.53h2.6M117.73 580.53h-2.6M47.6 576.01h2.6M117.73 576.01h-2.6M47.6 571.5h2.6M117.73 571.5h-2.6M47.6 566.98h2.6M117.73 566.98h-2.6M47.6 562.47h4.8M117.73 562.47h-4.8" stroke="#000" stroke-width="0.9" fill="none"/>
<rect x="47.6" y="557.95" width="70.13" height="72.25" fill="none" stroke="#000" stroke-width="1"/>
<path d="M126.5 630.2v-2.6M126.5 557.95v2.6M135.27 630.2v-4.8M135.27 557.95v4.8M144.03 630.2v-2.6M144.03 557.95v2.6M152.8 630.2v-2.6M152.8 557.95v2.6M161.57 630.2v-2.6M161.57 557.95v2.6M170.33 630.2v-4.8M170.33 557.95v4.8M179.1 630.2v-2.6M179.1 557.95v2.6" stroke="#000" stroke-width="0.9" fill="none"/>
<rect x="117.73" y="557.95" width="70.13" height="72.25" fill="none" stroke="#000" stroke-width="1"/>
<clipPath id="c33"><rect x="47.6" y="630.2" width="70.13" height="72.25"/></clipPath><g clip-path="url(#c33)">
<path d="M56.2 628.2 L120 628.2 L120 704.4 L55.5 704.4Z" fill="#f2aea6" stroke="#ea7a6c" stroke-width="0.8" />
<path d="M62.4 628.2 L79.3 628.2 L82 704.4 L63.1 704.4Z" fill="#e13223" />
<path d="M64.2 628.2 L76.2 628.2 L79.3 704.4 L64.7 704.4Z" fill="#b0abd6" stroke="#6f9be8" stroke-width="0.5" />
<path d="M68.5 628.2 L73.9 628.2 L77 704.4 L69.3 704.4Z" fill="#2d62c8" />
</g>
<path d="M49.39 702.45v-4.8M49.39 630.2v4.8M53.85 702.45v-2.6M53.85 630.2v2.6M58.32 702.45v-2.6M58.32 630.2v2.6M62.79 702.45v-2.6M62.79 630.2v2.6M67.26 702.45v-2.6M67.26 630.2v2.6M71.72 702.45v-4.8M71.72 630.2v4.8M76.19 702.45v-2.6M76.19 630.2v2.6M80.66 702.45v-2.6M80.66 630.2v2.6M85.12 702.45v-2.6M85.12 630.2v2.6M89.59 702.45v-2.6M89.59 630.2v2.6M94.06 702.45v-4.8M94.06 630.2v4.8M98.52 702.45v-2.6M98.52 630.2v2.6M102.99 702.45v-2.6M102.99 630.2v2.6M107.46 702.45v-2.6M107.46 630.2v2.6M111.93 702.45v-2.6M111.93 630.2v2.6M116.39 702.45v-4.8M116.39 630.2v4.8M47.6 695.23h2.6M117.73 695.23h-2.6M47.6 688h4.8M117.73 688h-4.8M47.6 680.78h2.6M117.73 680.78h-2.6M47.6 673.55h2.6M117.73 673.55h-2.6M47.6 666.33h2.6M117.73 666.33h-2.6M47.6 659.1h4.8M117.73 659.1h-4.8M47.6 651.88h2.6M117.73 651.88h-2.6M47.6 644.65h2.6M117.73 644.65h-2.6M47.6 637.43h2.6M117.73 637.43h-2.6" stroke="#000" stroke-width="0.9" fill="none"/>
<rect x="47.6" y="630.2" width="70.13" height="72.25" fill="none" stroke="#000" stroke-width="1"/>
<clipPath id="c34"><rect x="117.73" y="630.2" width="70.13" height="72.25"/></clipPath><g clip-path="url(#c34)">
<path d="M115 628.2 L190 628.2 L190 704.4 L115 704.4Z" fill="#f2aea6" />
<path d="M155.8 628C155.73 628.5 155.95 628.33 155.4 631C154.85 633.67 153.4 640.5 152.5 644C151.6 647.5 150.87 649.33 150 652C149.13 654.67 147.8 657 147.3 660C146.8 663 146.8 666.72 147 670C147.2 673.28 147.92 676.37 148.5 679.7C149.08 683.03 149.87 686.28 150.5 690C151.13 693.72 151.97 699.67 152.3 702C152.63 704.33 152.47 703.67 152.5 704L163.9 704L163.9 628Z" fill="#fff" stroke="#ea7a6c" stroke-width="0.8" />
<path d="M163.9 628 L163.9 704Z" fill="none" stroke="#ea7a6c" stroke-width="0.8" />
<path d="M172 628.2 L178.4 628.2 L178.4 704.4 L172 704.4Z" fill="#e13223" />
<path d="M178.4 628.2 L183.8 628.2 L183.8 704.4 L178.4 704.4Z" fill="#b0abd6" stroke="#6f9be8" stroke-width="0.5" />
<path d="M183.8 628.2 L190 628.2 L190 704.4 L183.8 704.4Z" fill="#2d62c8" />
</g>
<path d="M126.5 702.45v-2.6M126.5 630.2v2.6M135.27 702.45v-4.8M135.27 630.2v4.8M144.03 702.45v-2.6M144.03 630.2v2.6M152.8 702.45v-2.6M152.8 630.2v2.6M161.57 702.45v-2.6M161.57 630.2v2.6M170.33 702.45v-4.8M170.33 630.2v4.8M179.1 702.45v-2.6M179.1 630.2v2.6M117.73 695.23h2.6M187.87 695.23h-2.6M117.73 688h4.8M187.87 688h-4.8M117.73 680.78h2.6M187.87 680.78h-2.6M117.73 673.55h2.6M187.87 673.55h-2.6M117.73 666.33h2.6M187.87 666.33h-2.6M117.73 659.1h4.8M187.87 659.1h-4.8M117.73 651.88h2.6M187.87 651.88h-2.6M117.73 644.65h2.6M187.87 644.65h-2.6M117.73 637.43h2.6M187.87 637.43h-2.6" stroke="#000" stroke-width="0.9" fill="none"/>
<rect x="117.73" y="630.2" width="70.13" height="72.25" fill="none" stroke="#000" stroke-width="1"/>
<path d="M194.88 702.45v-2.6M194.88 630.2v2.6M201.89 702.45v-4.8M201.89 630.2v4.8M208.91 702.45v-2.6M208.91 630.2v2.6M215.92 702.45v-2.6M215.92 630.2v2.6M222.93 702.45v-2.6M222.93 630.2v2.6M229.95 702.45v-4.8M229.95 630.2v4.8M236.96 702.45v-2.6M236.96 630.2v2.6M243.97 702.45v-2.6M243.97 630.2v2.6M250.99 702.45v-2.6M250.99 630.2v2.6" stroke="#000" stroke-width="0.9" fill="none"/>
<rect x="187.87" y="630.2" width="70.13" height="72.25" fill="none" stroke="#000" stroke-width="1"/>
<clipPath id="c37"><rect x="47.6" y="702.45" width="70.13" height="72.25"/></clipPath><g clip-path="url(#c37)">
<rect x="47.6" y="702.4" width="70.1" height="72.30000000000007" fill="#f2aea6"/>
<path d="M59.8 700C59.45 702.32 57.58 710.57 57.7 713.9C57.82 717.23 60.15 717.33 60.5 720C60.85 722.67 60.1 726.13 59.8 729.9C59.5 733.67 59.15 737.82 58.7 742.6C58.25 747.38 57.45 752.87 57.1 758.6C56.75 764.33 56.68 773.93 56.6 777L46 777L46 700Z" fill="#fff" stroke="#ea7a6c" stroke-width="0.8" />
<ellipse cx="60" cy="718.7" rx="1.3" ry="3" fill="#fff" stroke="#ea7a6c" stroke-width="0.6"/>
<ellipse cx="49.5" cy="731.7" rx="2" ry="2.3" fill="none" stroke="#ea7a6c" stroke-width="0.8"/>
<ellipse cx="53" cy="703" rx="2" ry="1.5" fill="none" stroke="#ea7a6c" stroke-width="0.8"/>
<path d="M67 700 L83 700 L69.9 777 L61.6 777Z" fill="#e13223" />
<path d="M67.5 700 L81.1 700 L75.3 742.6 L66.7 777 L61.9 777 L64 742.6Z" fill="#b0abd6" stroke="#6f9be8" stroke-width="0.5" />
<path d="M69.9 700C70.51 700 78.71 697.16 79 700C79.29 702.84 74.89 738.65 74.2 742.6C73.51 746.55 69.04 758.24 68.6 759.2C68.16 760.16 67.69 758.11 67.6 757C67.51 755.89 67.32 743.56 67.3 742.6Z" fill="#2d62c8" />
</g>
<path d="M49.39 774.7v-4.8M49.39 702.45v4.8M53.85 774.7v-2.6M53.85 702.45v2.6M58.32 774.7v-2.6M58.32 702.45v2.6M62.79 774.7v-2.6M62.79 702.45v2.6M67.26 774.7v-2.6M67.26 702.45v2.6M71.72 774.7v-4.8M71.72 702.45v4.8M76.19 774.7v-2.6M76.19 702.45v2.6M80.66 774.7v-2.6M80.66 702.45v2.6M85.12 774.7v-2.6M85.12 702.45v2.6M89.59 774.7v-2.6M89.59 702.45v2.6M94.06 774.7v-4.8M94.06 702.45v4.8M98.52 774.7v-2.6M98.52 702.45v2.6M102.99 774.7v-2.6M102.99 702.45v2.6M107.46 774.7v-2.6M107.46 702.45v2.6M111.93 774.7v-2.6M111.93 702.45v2.6M116.39 774.7v-4.8M116.39 702.45v4.8M47.6 772.54h2.6M117.73 772.54h-2.6M47.6 767.15h2.6M117.73 767.15h-2.6M47.6 761.76h2.6M117.73 761.76h-2.6M47.6 756.37h4.8M117.73 756.37h-4.8M47.6 750.98h2.6M117.73 750.98h-2.6M47.6 745.58h2.6M117.73 745.58h-2.6M47.6 740.19h2.6M117.73 740.19h-2.6M47.6 734.8h2.6M117.73 734.8h-2.6M47.6 729.41h4.8M117.73 729.41h-4.8M47.6 724.02h2.6M117.73 724.02h-2.6M47.6 718.63h2.6M117.73 718.63h-2.6M47.6 713.23h2.6M117.73 713.23h-2.6M47.6 707.84h2.6M117.73 707.84h-2.6" stroke="#000" stroke-width="0.9" fill="none"/>
<rect x="47.6" y="702.45" width="70.13" height="72.25" fill="none" stroke="#000" stroke-width="1"/>
<clipPath id="c38"><rect x="117.73" y="702.45" width="70.13" height="72.25"/></clipPath><g clip-path="url(#c38)">
<rect x="117.7" y="702.4" width="70.2" height="72.30000000000007" fill="#f2aea6"/>
<path d="M117 700C118.17 699.17 122.93 699.5 124 700C125.07 700.5 123.98 702 123.4 703C122.82 704 121.35 705.33 120.5 706C119.65 706.67 118.88 707.17 118.3 707C117.72 706.83 117.22 706.17 117 705C116.78 703.83 115.83 700.83 117 700Z" fill="#fff" stroke="#ea7a6c" stroke-width="0.8" />
<path d="M127.6 700C128.57 699 132.87 699 133.8 700C134.73 701 133.5 703.83 133.2 706C132.9 708.17 132.4 710.75 132 713C131.6 715.25 131.25 718.37 130.8 719.5C130.35 720.63 129.68 720.88 129.3 719.8C128.92 718.72 128.72 715.3 128.5 713C128.28 710.7 128.15 708.17 128 706C127.85 703.83 126.63 701 127.6 700Z" fill="#fff" stroke="#ea7a6c" stroke-width="0.8" />
<path d="M150.9 703.2C152.18 702.33 153.35 703.05 154.1 703.8C154.85 704.55 155.72 706.42 155.4 707.7C155.08 708.98 152.63 710.23 152.2 711.5C151.77 712.77 151.85 714.02 152.8 715.3C153.75 716.58 156.62 717.58 157.9 719.2C159.18 720.82 160.28 723.08 160.5 725C160.72 726.92 160.17 729.65 159.2 730.7C158.23 731.75 156.52 731.83 154.7 731.3C152.88 730.77 150 728.67 148.3 727.5C146.6 726.33 144.5 726.33 144.5 724.3C144.5 722.27 147.98 717.85 148.3 715.3C148.62 712.75 145.97 711.02 146.4 709C146.83 706.98 149.62 704.07 150.9 703.2Z" fill="#fff" stroke="#ea7a6c" stroke-width="0.8" />
<path d="M165.6 719.2C166.22 719.37 167.05 721.2 167.5 723C167.95 724.8 168.3 727.83 168.3 730C168.3 732.17 167.85 734.82 167.5 736C167.15 737.18 166.78 737.27 166.2 737.1C165.62 736.93 164.6 736.52 164 735C163.4 733.48 162.63 730.17 162.6 728C162.57 725.83 163.3 723.47 163.8 722C164.3 720.53 164.98 719.03 165.6 719.2Z" fill="#fff" stroke="#ea7a6c" stroke-width="0.8" />
<path d="M162.2 700C163.3 699.17 168.47 699.17 169.6 700C170.73 700.83 169.35 703.5 169 705C168.65 706.5 167.97 708.02 167.5 709C167.03 709.98 166.7 710.9 166.2 710.9C165.7 710.9 165.03 709.98 164.5 709C163.97 708.02 163.38 706.5 163 705C162.62 703.5 161.1 700.83 162.2 700Z" fill="#fff" stroke="#ea7a6c" stroke-width="0.8" />
<path d="M124 736.9C125.17 736.9 126.83 737.65 127.5 738.5C128.17 739.35 128.25 740.7 128 742C127.75 743.3 127 745.55 126 746.3C125 747.05 123 747.05 122 746.5C121 745.95 120.25 744.33 120 743C119.75 741.67 119.83 739.52 120.5 738.5C121.17 737.48 122.83 736.9 124 736.9Z" fill="#fff" stroke="#ea7a6c" stroke-width="0.8" />
<path d="M157.6 750.3C158.52 750.13 159.82 750.8 160.3 751.5C160.78 752.2 160.88 753.52 160.5 754.5C160.12 755.48 158.88 757.15 158 757.4C157.12 757.65 155.73 756.82 155.2 756C154.67 755.18 154.4 753.45 154.8 752.5C155.2 751.55 156.68 750.47 157.6 750.3Z" fill="#fff" stroke="#ea7a6c" stroke-width="0.8" />
<path d="M147 758.7C147.8 758.45 149.25 758.87 150 759.5C150.75 760.13 151.5 761.37 151.5 762.5C151.5 763.63 150.75 765.88 150 766.3C149.25 766.72 147.8 765.88 147 765C146.2 764.12 145.2 762.05 145.2 761C145.2 759.95 146.2 758.95 147 758.7Z" fill="#fff" stroke="#ea7a6c" stroke-width="0.8" />
<path d="M141.3 759.8C141.53 759.8 141.92 760.97 142.2 762C142.48 763.03 142.57 764.33 143 766C143.43 767.67 144.47 770.17 144.8 772C145.13 773.83 145.97 776.17 145 777C144.03 777.83 139.9 777.83 139 777C138.1 776.17 139.33 773.83 139.6 772C139.87 770.17 140.4 767.67 140.6 766C140.8 764.33 140.68 763.03 140.8 762C140.92 760.97 141.07 759.8 141.3 759.8Z" fill="#fff" stroke="#ea7a6c" stroke-width="0.8" />
<path d="M126.5 777C125.33 776 128 772.57 129 771C130 769.43 131.42 767.77 132.5 767.6C133.58 767.43 134.92 768.43 135.5 770C136.08 771.57 137.5 775.83 136 777C134.5 778.17 127.67 778 126.5 777Z" fill="#fff" stroke="#ea7a6c" stroke-width="0.8" />
<path d="M150.5 777C148.75 776 151.75 772.63 153 771C154.25 769.37 156.5 767.53 158 767.2C159.5 766.87 161.08 767.37 162 769C162.92 770.63 165.42 775.67 163.5 777C161.58 778.33 152.25 778 150.5 777Z" fill="#fff" stroke="#ea7a6c" stroke-width="0.8" />
<path d="M117 769C117.5 768 119.25 769.67 120 771C120.75 772.33 122 776 121.5 777C121 778 117.75 778.33 117 777C116.25 775.67 116.5 770 117 769Z" fill="#fff" stroke="#ea7a6c" stroke-width="0.8" />
<path d="M177.2 700C177.28 705 177.52 720.83 177.7 730C177.88 739.17 177.88 747.17 178.3 755C178.72 762.83 179.88 773.33 180.2 777L190 777L190 700Z" fill="#e13223" />
<path d="M178.6 700C178.67 705 178.8 720.83 179 730C179.2 739.17 179.38 747.17 179.8 755C180.22 762.83 181.22 773.33 181.5 777L190 777L190 700Z" fill="#b0abd6" stroke="#6f9be8" stroke-width="0.5" />
<path d="M183 700C183.03 705 182.95 720.83 183.2 730C183.45 739.17 183.95 748 184.5 755C185.05 762 185.58 768.33 186.5 772C187.42 775.67 189.42 776.17 190 777L190 700Z" fill="#2d62c8" />
</g>
<path d="M126.5 774.7v-2.6M126.5 702.45v2.6M135.27 774.7v-4.8M135.27 702.45v4.8M144.03 774.7v-2.6M144.03 702.45v2.6M152.8 774.7v-2.6M152.8 702.45v2.6M161.57 774.7v-2.6M161.57 702.45v2.6M170.33 774.7v-4.8M170.33 702.45v4.8M179.1 774.7v-2.6M179.1 702.45v2.6M117.73 772.54h2.6M187.87 772.54h-2.6M117.73 767.15h2.6M187.87 767.15h-2.6M117.73 761.76h2.6M187.87 761.76h-2.6M117.73 756.37h4.8M187.87 756.37h-4.8M117.73 750.98h2.6M187.87 750.98h-2.6M117.73 745.58h2.6M187.87 745.58h-2.6M117.73 740.19h2.6M187.87 740.19h-2.6M117.73 734.8h2.6M187.87 734.8h-2.6M117.73 729.41h4.8M187.87 729.41h-4.8M117.73 724.02h2.6M187.87 724.02h-2.6M117.73 718.63h2.6M187.87 718.63h-2.6M117.73 713.23h2.6M187.87 713.23h-2.6M117.73 707.84h2.6M187.87 707.84h-2.6" stroke="#000" stroke-width="0.9" fill="none"/>
<rect x="117.73" y="702.45" width="70.13" height="72.25" fill="none" stroke="#000" stroke-width="1"/>
<clipPath id="c39"><rect x="187.87" y="702.45" width="70.13" height="72.25"/></clipPath><g clip-path="url(#c39)">
<path d="M186 700 L260 700 L260 762.3 L186 773.8Z" fill="#f2aea6" stroke="#ea7a6c" stroke-width="0.9" />
<path d="M186 700 L260 700 L260 758 L186 769.4Z" fill="#a9bfeb" stroke="#6f9be8" stroke-width="0.6" />
<path d="M186 700 L260 700 L260 736.3 L186 750.5Z" fill="#b0abd6" />
<path d="M186 700 L260 700 L260 731.5 L186 746.5Z" fill="#2d62c8" />
</g>
<path d="M194.88 774.7v-2.6M194.88 702.45v2.6M201.89 774.7v-4.8M201.89 702.45v4.8M208.91 774.7v-2.6M208.91 702.45v2.6M215.92 774.7v-2.6M215.92 702.45v2.6M222.93 774.7v-2.6M222.93 702.45v2.6M229.95 774.7v-4.8M229.95 702.45v4.8M236.96 774.7v-2.6M236.96 702.45v2.6M243.97 774.7v-2.6M243.97 702.45v2.6M250.99 774.7v-2.6M250.99 702.45v2.6M187.87 772.54h2.6M258 772.54h-2.6M187.87 767.15h2.6M258 767.15h-2.6M187.87 761.76h2.6M258 761.76h-2.6M187.87 756.37h4.8M258 756.37h-4.8M187.87 750.98h2.6M258 750.98h-2.6M187.87 745.58h2.6M258 745.58h-2.6M187.87 740.19h2.6M258 740.19h-2.6M187.87 734.8h2.6M258 734.8h-2.6M187.87 729.41h4.8M258 729.41h-4.8M187.87 724.02h2.6M258 724.02h-2.6M187.87 718.63h2.6M258 718.63h-2.6M187.87 713.23h2.6M258 713.23h-2.6M187.87 707.84h2.6M258 707.84h-2.6" stroke="#000" stroke-width="0.9" fill="none"/>
<rect x="187.87" y="702.45" width="70.13" height="72.25" fill="none" stroke="#000" stroke-width="1"/>
<path d="M260.09 774.7v-2.6M260.09 702.45v2.6M265.33 774.7v-2.6M265.33 702.45v2.6M270.56 774.7v-2.6M270.56 702.45v2.6M275.8 774.7v-4.8M275.8 702.45v4.8M281.03 774.7v-2.6M281.03 702.45v2.6M286.26 774.7v-2.6M286.26 702.45v2.6M291.5 774.7v-2.6M291.5 702.45v2.6M296.73 774.7v-2.6M296.73 702.45v2.6M301.96 774.7v-4.8M301.96 702.45v4.8M307.2 774.7v-2.6M307.2 702.45v2.6M312.43 774.7v-2.6M312.43 702.45v2.6M317.67 774.7v-2.6M317.67 702.45v2.6M322.9 774.7v-2.6M322.9 702.45v2.6" stroke="#000" stroke-width="0.9" fill="none"/>
<rect x="258" y="702.45" width="70.13" height="72.25" fill="none" stroke="#000" stroke-width="1"/>
<clipPath id="c42"><rect x="47.6" y="774.7" width="70.13" height="72.25"/></clipPath><g clip-path="url(#c42)">
<path d="M46 785.3C58.33 785.17 107.67 784.63 120 784.5L120 795.3 L89 795.3 C85 795.5 83.3 797.5 83.1 801 C82.5 812 81 820 79.3 825.5 C77.5 831 74.5 836 71.6 836 C68.5 836 65.5 831 64 826.8 C62 818 61.3 808 60.8 803 C60.3 798 59 795.5 56 795.3 L46 795.3Z" fill="#f2aea6" stroke="#ea7a6c" stroke-width="0.9" />
<path d="M66.2 789.9C67.13 788.97 71.39 789 73 789C74.61 789 79.15 789.2 80 789.9C80.85 790.6 80.57 792.49 80.3 795C80.03 797.51 78.37 807.88 77.7 811.4C77.03 814.92 75.5 823.05 74.6 825.2C73.7 827.35 71.06 829.82 70 829.8C68.94 829.78 66.12 826.84 65.5 825C64.88 823.16 64.76 817.27 64.7 814C64.64 810.73 64.83 799.81 65 797C65.17 794.19 65.27 790.83 66.2 789.9Z" fill="#e13223" />
</g>
<path d="M49.39 846.95v-4.8M49.39 774.7v4.8M53.85 846.95v-2.6M53.85 774.7v2.6M58.32 846.95v-2.6M58.32 774.7v2.6M62.79 846.95v-2.6M62.79 774.7v2.6M67.26 846.95v-2.6M67.26 774.7v2.6M71.72 846.95v-4.8M71.72 774.7v4.8M76.19 846.95v-2.6M76.19 774.7v2.6M80.66 846.95v-2.6M80.66 774.7v2.6M85.12 846.95v-2.6M85.12 774.7v2.6M89.59 846.95v-2.6M89.59 774.7v2.6M94.06 846.95v-4.8M94.06 774.7v4.8M98.52 846.95v-2.6M98.52 774.7v2.6M102.99 846.95v-2.6M102.99 774.7v2.6M107.46 846.95v-2.6M107.46 774.7v2.6M111.93 846.95v-2.6M111.93 774.7v2.6M116.39 846.95v-4.8M116.39 774.7v4.8M47.6 844.31h2.6M117.73 844.31h-2.6M47.6 840.78h2.6M117.73 840.78h-2.6M47.6 837.26h2.6M117.73 837.26h-2.6M47.6 833.73h4.8M117.73 833.73h-4.8M47.6 830.21h2.6M117.73 830.21h-2.6M47.6 826.68h2.6M117.73 826.68h-2.6M47.6 823.16h2.6M117.73 823.16h-2.6M47.6 819.64h2.6M117.73 819.64h-2.6M47.6 816.11h4.8M117.73 816.11h-4.8M47.6 812.59h2.6M117.73 812.59h-2.6M47.6 809.06h2.6M117.73 809.06h-2.6M47.6 805.54h2.6M117.73 805.54h-2.6M47.6 802.01h2.6M117.73 802.01h-2.6M47.6 798.49h4.8M117.73 798.49h-4.8M47.6 794.97h2.6M117.73 794.97h-2.6M47.6 791.44h2.6M117.73 791.44h-2.6M47.6 787.92h2.6M117.73 787.92h-2.6M47.6 784.39h2.6M117.73 784.39h-2.6M47.6 780.87h4.8M117.73 780.87h-4.8M47.6 777.34h2.6M117.73 777.34h-2.6" stroke="#000" stroke-width="0.9" fill="none"/>
<rect x="47.6" y="774.7" width="70.13" height="72.25" fill="none" stroke="#000" stroke-width="1"/>
<clipPath id="c43"><rect x="117.73" y="774.7" width="70.13" height="72.25"/></clipPath><g clip-path="url(#c43)">
<path d="M115 785.3 L190 786.5 L190 838 C186 836 183 832 181.5 829.8 C178 824 176.5 815 176.1 810 C175.7 804 174.8 798 170.8 796 L115 795.3Z" fill="#f2aea6" stroke="#ea7a6c" stroke-width="0.9" />
<path d="M190 790 L182 790.5 C179 791 178.4 793 178 797 C177.5 805 178 815 179.2 820 C180.5 827 183 832 190 841Z" fill="#e13223" />
</g>
<path d="M126.5 846.95v-2.6M126.5 774.7v2.6M135.27 846.95v-4.8M135.27 774.7v4.8M144.03 846.95v-2.6M144.03 774.7v2.6M152.8 846.95v-2.6M152.8 774.7v2.6M161.57 846.95v-2.6M161.57 774.7v2.6M170.33 846.95v-4.8M170.33 774.7v4.8M179.1 846.95v-2.6M179.1 774.7v2.6M117.73 844.31h2.6M187.87 844.31h-2.6M117.73 840.78h2.6M187.87 840.78h-2.6M117.73 837.26h2.6M187.87 837.26h-2.6M117.73 833.73h4.8M187.87 833.73h-4.8M117.73 830.21h2.6M187.87 830.21h-2.6M117.73 826.68h2.6M187.87 826.68h-2.6M117.73 823.16h2.6M187.87 823.16h-2.6M117.73 819.64h2.6M187.87 819.64h-2.6M117.73 816.11h4.8M187.87 816.11h-4.8M117.73 812.59h2.6M187.87 812.59h-2.6M117.73 809.06h2.6M187.87 809.06h-2.6M117.73 805.54h2.6M187.87 805.54h-2.6M117.73 802.01h2.6M187.87 802.01h-2.6M117.73 798.49h4.8M187.87 798.49h-4.8M117.73 794.97h2.6M187.87 794.97h-2.6M117.73 791.44h2.6M187.87 791.44h-2.6M117.73 787.92h2.6M187.87 787.92h-2.6M117.73 784.39h2.6M187.87 784.39h-2.6M117.73 780.87h4.8M187.87 780.87h-4.8M117.73 777.34h2.6M187.87 777.34h-2.6" stroke="#000" stroke-width="0.9" fill="none"/>
<rect x="117.73" y="774.7" width="70.13" height="72.25" fill="none" stroke="#000" stroke-width="1"/>
<clipPath id="c44"><rect x="187.87" y="774.7" width="70.13" height="72.25"/></clipPath><g clip-path="url(#c44)">
<path d="M185.9 772 L260 772 L260 830.6 L185.9 833Z" fill="#f2aea6" stroke="#ea7a6c" stroke-width="0.9" />
<path d="M185.9 787.1 L260 787.8 L260 816.1 L185.9 819.2Z" fill="#e13223" />
</g>
<path d="M194.88 846.95v-2.6M194.88 774.7v2.6M201.89 846.95v-4.8M201.89 774.7v4.8M208.91 846.95v-2.6M208.91 774.7v2.6M215.92 846.95v-2.6M215.92 774.7v2.6M222.93 846.95v-2.6M222.93 774.7v2.6M229.95 846.95v-4.8M229.95 774.7v4.8M236.96 846.95v-2.6M236.96 774.7v2.6M243.97 846.95v-2.6M243.97 774.7v2.6M250.99 846.95v-2.6M250.99 774.7v2.6M187.87 844.31h2.6M258 844.31h-2.6M187.87 840.78h2.6M258 840.78h-2.6M187.87 837.26h2.6M258 837.26h-2.6M187.87 833.73h4.8M258 833.73h-4.8M187.87 830.21h2.6M258 830.21h-2.6M187.87 826.68h2.6M258 826.68h-2.6M187.87 823.16h2.6M258 823.16h-2.6M187.87 819.64h2.6M258 819.64h-2.6M187.87 816.11h4.8M258 816.11h-4.8M187.87 812.59h2.6M258 812.59h-2.6M187.87 809.06h2.6M258 809.06h-2.6M187.87 805.54h2.6M258 805.54h-2.6M187.87 802.01h2.6M258 802.01h-2.6M187.87 798.49h4.8M258 798.49h-4.8M187.87 794.97h2.6M258 794.97h-2.6M187.87 791.44h2.6M258 791.44h-2.6M187.87 787.92h2.6M258 787.92h-2.6M187.87 784.39h2.6M258 784.39h-2.6M187.87 780.87h4.8M258 780.87h-4.8M187.87 777.34h2.6M258 777.34h-2.6" stroke="#000" stroke-width="0.9" fill="none"/>
<rect x="187.87" y="774.7" width="70.13" height="72.25" fill="none" stroke="#000" stroke-width="1"/>
<clipPath id="c45"><rect x="258" y="774.7" width="70.13" height="72.25"/></clipPath><g clip-path="url(#c45)">
<path d="M256 782.2 L330 782.2 L330 828.4 C310 827.5 295 826 285 824 C272 821.5 264 819 256 817Z" fill="#f2aea6" stroke="#ea7a6c" stroke-width="0.9" />
<path d="M256 792.2 C262 790.5 270 789.8 290 789.5 L330 789.1 L330 820 C310 819.5 300 818.5 292 816.5 C283 814 278 810 275 806 C271.5 801 268 797 256 794.2Z" fill="#e13223" />
</g>
<path d="M260.09 846.95v-2.6M260.09 774.7v2.6M265.33 846.95v-2.6M265.33 774.7v2.6M270.56 846.95v-2.6M270.56 774.7v2.6M275.8 846.95v-4.8M275.8 774.7v4.8M281.03 846.95v-2.6M281.03 774.7v2.6M286.26 846.95v-2.6M286.26 774.7v2.6M291.5 846.95v-2.6M291.5 774.7v2.6M296.73 846.95v-2.6M296.73 774.7v2.6M301.96 846.95v-4.8M301.96 774.7v4.8M307.2 846.95v-2.6M307.2 774.7v2.6M312.43 846.95v-2.6M312.43 774.7v2.6M317.67 846.95v-2.6M317.67 774.7v2.6M322.9 846.95v-2.6M322.9 774.7v2.6M258 844.31h2.6M328.13 844.31h-2.6M258 840.78h2.6M328.13 840.78h-2.6M258 837.26h2.6M328.13 837.26h-2.6M258 833.73h4.8M328.13 833.73h-4.8M258 830.21h2.6M328.13 830.21h-2.6M258 826.68h2.6M328.13 826.68h-2.6M258 823.16h2.6M328.13 823.16h-2.6M258 819.64h2.6M328.13 819.64h-2.6M258 816.11h4.8M328.13 816.11h-4.8M258 812.59h2.6M328.13 812.59h-2.6M258 809.06h2.6M328.13 809.06h-2.6M258 805.54h2.6M328.13 805.54h-2.6M258 802.01h2.6M328.13 802.01h-2.6M258 798.49h4.8M328.13 798.49h-4.8M258 794.97h2.6M328.13 794.97h-2.6M258 791.44h2.6M328.13 791.44h-2.6M258 787.92h2.6M328.13 787.92h-2.6M258 784.39h2.6M328.13 784.39h-2.6M258 780.87h4.8M328.13 780.87h-4.8M258 777.34h2.6M328.13 777.34h-2.6" stroke="#000" stroke-width="0.9" fill="none"/>
<rect x="258" y="774.7" width="70.13" height="72.25" fill="none" stroke="#000" stroke-width="1"/>
<path d="M332.41 846.95v-2.6M332.41 774.7v2.6M340.96 846.95v-4.8M340.96 774.7v4.8M349.52 846.95v-2.6M349.52 774.7v2.6M358.07 846.95v-2.6M358.07 774.7v2.6M366.62 846.95v-2.6M366.62 774.7v2.6M375.17 846.95v-4.8M375.17 774.7v4.8M383.73 846.95v-2.6M383.73 774.7v2.6M392.28 846.95v-2.6M392.28 774.7v2.6" stroke="#000" stroke-width="0.9" fill="none"/>
<rect x="328.13" y="774.7" width="70.13" height="72.25" fill="none" stroke="#000" stroke-width="1"/>
<clipPath id="c48"><rect x="47.6" y="846.95" width="70.13" height="72.25"/></clipPath><g clip-path="url(#c48)">
<path d="M46 883.6 L58 883.3 C60 880 60.5 872 62.5 864 C64.5 857 67.5 854.1 71.2 854.1 C75 854.1 78.5 857.5 80.5 864 C82.5 871 83 878 85.5 882.5 L120 882.1 L120 902.6 L86 903.2 C80 905 76 908.1 71.2 908.1 C66.5 908.1 63 904.5 58 902 L46 901.8Z" fill="#f2aea6" stroke="#ea7a6c" stroke-width="0.9" />
<path d="M71.2 860.8C72.92 860.5 75.19 861.72 76.5 864C77.81 866.28 79.6 871.8 79.9 876C80.2 880.2 79.69 888.13 78.5 892C77.31 895.87 73.95 901.35 72 901.8C70.05 902.25 66.85 898.08 65.5 895C64.15 891.92 63.08 885.65 63 881.3C62.92 876.95 63.77 869.08 65 866C66.23 862.92 69.48 861.1 71.2 860.8Z" fill="#e13223" />
</g>
<path d="M49.39 919.2v-4.8M49.39 846.95v4.8M53.85 919.2v-2.6M53.85 846.95v2.6M58.32 919.2v-2.6M58.32 846.95v2.6M62.79 919.2v-2.6M62.79 846.95v2.6M67.26 919.2v-2.6M67.26 846.95v2.6M71.72 919.2v-4.8M71.72 846.95v4.8M76.19 919.2v-2.6M76.19 846.95v2.6M80.66 919.2v-2.6M80.66 846.95v2.6M85.12 919.2v-2.6M85.12 846.95v2.6M89.59 919.2v-2.6M89.59 846.95v2.6M94.06 919.2v-4.8M94.06 846.95v4.8M98.52 919.2v-2.6M98.52 846.95v2.6M102.99 919.2v-2.6M102.99 846.95v2.6M107.46 919.2v-2.6M107.46 846.95v2.6M111.93 919.2v-2.6M111.93 846.95v2.6M116.39 919.2v-4.8M116.39 846.95v4.8M47.6 917.93h2.6M117.73 917.93h-2.6M47.6 912.86h2.6M117.73 912.86h-2.6M47.6 907.79h2.6M117.73 907.79h-2.6M47.6 902.72h2.6M117.73 902.72h-2.6M47.6 897.65h4.8M117.73 897.65h-4.8M47.6 892.58h2.6M117.73 892.58h-2.6M47.6 887.51h2.6M117.73 887.51h-2.6M47.6 882.44h2.6M117.73 882.44h-2.6M47.6 877.37h2.6M117.73 877.37h-2.6M47.6 872.3h4.8M117.73 872.3h-4.8M47.6 867.23h2.6M117.73 867.23h-2.6M47.6 862.16h2.6M117.73 862.16h-2.6M47.6 857.09h2.6M117.73 857.09h-2.6M47.6 852.02h2.6M117.73 852.02h-2.6" stroke="#000" stroke-width="0.9" fill="none"/>
<rect x="47.6" y="846.95" width="70.13" height="72.25" fill="none" stroke="#000" stroke-width="1"/>
<clipPath id="c49"><rect x="117.73" y="846.95" width="70.13" height="72.25"/></clipPath><g clip-path="url(#c49)">
<path d="M115 882.5 L115 882.09 L116.6 882.45 L118.2 882.24 L119.8 882.52 L121.4 882.55 L123 881.88 L124.6 881.82 L126.2 882.8 L127.8 882.11 L129.4 882.08 L131 882.99 L132.6 882.36 L134.2 882.8 L135.8 882.37 L137.4 882.57 L139 881.98 L140.6 882.56 L142.2 882.84 L143.8 882.43 L145.4 882.69 L147 882.61 L148.6 881.88 L150.2 882.71 L151.8 882.51 L153.4 882.16 L155 881.84 L156.6 882.84 L158.2 882.37 L159.8 882.66 L161.4 882.85 L163 882.66 L164.6 882.91 L166.2 882.27 L167.8 882.76 L168.8 882.3 C172 880 173.5 873 175.5 866 C177.5 860 181 856.5 186.2 854.5 L190 853 L190 909 C186 907 183 905.5 180 904 C176 901.5 172 902 168.8 902.6 L167.8 902.53 L166.2 903.12 L164.6 903.05 L163 902.12 L161.4 902.16 L159.8 902.26 L158.2 903.16 L156.6 902.52 L155 902.75 L153.4 902.36 L151.8 902.61 L150.2 902.46 L148.6 902.42 L147 902.7 L145.4 902.7 L143.8 903.09 L142.2 902.82 L140.6 903.11 L139 903.03 L137.4 903.19 L135.8 902.81 L134.2 902.2 L132.6 903.03 L131 903.16 L129.4 903.09 L127.8 902.68 L126.2 902.86 L124.6 902.25 L123 903 L121.4 902.69 L119.8 902.34 L118.2 902.08 L116.6 903.02 L115 903.19 L115 902.6Z" fill="#f2aea6" stroke="#ea7a6c" stroke-width="0.9" />
<path d="M190 858.8 C183 861 179 866 177 872 C175 879 175 887 177 893 C179 899 183 902 190 903.2Z" fill="#e13223" />
</g>
<path d="M126.5 919.2v-2.6M126.5 846.95v2.6M135.27 919.2v-4.8M135.27 846.95v4.8M144.03 919.2v-2.6M144.03 846.95v2.6M152.8 919.2v-2.6M152.8 846.95v2.6M161.57 919.2v-2.6M161.57 846.95v2.6M170.33 919.2v-4.8M170.33 846.95v4.8M179.1 919.2v-2.6M179.1 846.95v2.6M117.73 917.93h2.6M187.87 917.93h-2.6M117.73 912.86h2.6M187.87 912.86h-2.6M117.73 907.79h2.6M187.87 907.79h-2.6M117.73 902.72h2.6M187.87 902.72h-2.6M117.73 897.65h4.8M187.87 897.65h-4.8M117.73 892.58h2.6M187.87 892.58h-2.6M117.73 887.51h2.6M187.87 887.51h-2.6M117.73 882.44h2.6M187.87 882.44h-2.6M117.73 877.37h2.6M187.87 877.37h-2.6M117.73 872.3h4.8M187.87 872.3h-4.8M117.73 867.23h2.6M187.87 867.23h-2.6M117.73 862.16h2.6M187.87 862.16h-2.6M117.73 857.09h2.6M187.87 857.09h-2.6M117.73 852.02h2.6M187.87 852.02h-2.6" stroke="#000" stroke-width="0.9" fill="none"/>
<rect x="117.73" y="846.95" width="70.13" height="72.25" fill="none" stroke="#000" stroke-width="1"/>
<clipPath id="c50"><rect x="187.87" y="846.95" width="70.13" height="72.25"/></clipPath><g clip-path="url(#c50)">
<path d="M185.9 860.7 L260 862.3 L260 907.5 L185.9 908.3Z" fill="#f2aea6" stroke="#ea7a6c" stroke-width="0.9" />
<path d="M185.9 871.8 L260 874.2 L260 895.6 L185.9 897.2Z" fill="#e13223" />
</g>
<path d="M194.88 919.2v-2.6M194.88 846.95v2.6M201.89 919.2v-4.8M201.89 846.95v4.8M208.91 919.2v-2.6M208.91 846.95v2.6M215.92 919.2v-2.6M215.92 846.95v2.6M222.93 919.2v-2.6M222.93 846.95v2.6M229.95 919.2v-4.8M229.95 846.95v4.8M236.96 919.2v-2.6M236.96 846.95v2.6M243.97 919.2v-2.6M243.97 846.95v2.6M250.99 919.2v-2.6M250.99 846.95v2.6M187.87 917.93h2.6M258 917.93h-2.6M187.87 912.86h2.6M258 912.86h-2.6M187.87 907.79h2.6M258 907.79h-2.6M187.87 902.72h2.6M258 902.72h-2.6M187.87 897.65h4.8M258 897.65h-4.8M187.87 892.58h2.6M258 892.58h-2.6M187.87 887.51h2.6M258 887.51h-2.6M187.87 882.44h2.6M258 882.44h-2.6M187.87 877.37h2.6M258 877.37h-2.6M187.87 872.3h4.8M258 872.3h-4.8M187.87 867.23h2.6M258 867.23h-2.6M187.87 862.16h2.6M258 862.16h-2.6M187.87 857.09h2.6M258 857.09h-2.6M187.87 852.02h2.6M258 852.02h-2.6" stroke="#000" stroke-width="0.9" fill="none"/>
<rect x="187.87" y="846.95" width="70.13" height="72.25" fill="none" stroke="#000" stroke-width="1"/>
<clipPath id="c51"><rect x="258" y="846.95" width="70.13" height="72.25"/></clipPath><g clip-path="url(#c51)">
<path d="M256 872.8 C262 870 267 868 271.8 867.1 C280 865.3 288 864.8 295.4 864.6 L330 863.6 L330 903.8 L256 902.6Z" fill="#f2aea6" stroke="#ea7a6c" stroke-width="0.9" />
<path d="M330 871.8 L287.5 872.6 C280 873.5 274 875 270 877.5 C266 880 263.9 884 263.9 887.6 C263.9 891 267 893.5 271.8 894.2 C277 895 283 895.6 287.5 895.8 L330 896.3Z" fill="#e13223" />
</g>
<path d="M260.09 919.2v-2.6M260.09 846.95v2.6M265.33 919.2v-2.6M265.33 846.95v2.6M270.56 919.2v-2.6M270.56 846.95v2.6M275.8 919.2v-4.8M275.8 846.95v4.8M281.03 919.2v-2.6M281.03 846.95v2.6M286.26 919.2v-2.6M286.26 846.95v2.6M291.5 919.2v-2.6M291.5 846.95v2.6M296.73 919.2v-2.6M296.73 846.95v2.6M301.96 919.2v-4.8M301.96 846.95v4.8M307.2 919.2v-2.6M307.2 846.95v2.6M312.43 919.2v-2.6M312.43 846.95v2.6M317.67 919.2v-2.6M317.67 846.95v2.6M322.9 919.2v-2.6M322.9 846.95v2.6M258 917.93h2.6M328.13 917.93h-2.6M258 912.86h2.6M328.13 912.86h-2.6M258 907.79h2.6M328.13 907.79h-2.6M258 902.72h2.6M328.13 902.72h-2.6M258 897.65h4.8M328.13 897.65h-4.8M258 892.58h2.6M328.13 892.58h-2.6M258 887.51h2.6M328.13 887.51h-2.6M258 882.44h2.6M328.13 882.44h-2.6M258 877.37h2.6M328.13 877.37h-2.6M258 872.3h4.8M328.13 872.3h-4.8M258 867.23h2.6M328.13 867.23h-2.6M258 862.16h2.6M328.13 862.16h-2.6M258 857.09h2.6M328.13 857.09h-2.6M258 852.02h2.6M328.13 852.02h-2.6" stroke="#000" stroke-width="0.9" fill="none"/>
<rect x="258" y="846.95" width="70.13" height="72.25" fill="none" stroke="#000" stroke-width="1"/>
<clipPath id="c52"><rect x="328.13" y="846.95" width="70.13" height="72.25"/></clipPath><g clip-path="url(#c52)">
<path d="M363.1 860.1C366.43 859.58 367.85 861.58 370 862.9C372.15 864.22 374.2 865.7 376 868C377.8 870.3 379.47 874.03 380.8 876.7C382.13 879.37 383.12 881.43 384 884C384.88 886.57 385.33 889.43 386.1 892.1C386.87 894.77 388.03 897.52 388.6 900C389.17 902.48 389.4 905.25 389.5 907C389.6 908.75 389.78 909.92 389.2 910.5C388.62 911.08 386.9 910.75 386 910.5C385.1 910.25 384.8 910.25 383.8 909C382.8 907.75 381.02 904.8 380 903C378.98 901.2 379.37 898.78 377.7 898.2C376.03 897.62 372.57 899.23 370 899.5C367.43 899.77 365.63 900.72 362.3 899.8C358.97 898.88 353.02 897.33 350 894C346.98 890.67 344.2 884.47 344.2 879.8C344.2 875.13 346.85 869.28 350 866C353.15 862.72 359.77 860.62 363.1 860.1Z" fill="#f2aea6" stroke="#ea7a6c" stroke-width="0.9" />
<path d="M365 869C366.73 868.87 369.53 869.83 371 870.5C372.47 871.17 375.11 873.07 376 874C376.89 874.93 377.17 876.7 377.7 877.5C378.23 878.3 379.39 879.08 380 880C380.61 880.92 381.5 883.07 382.3 884.4C383.1 885.73 385.28 888.36 386 890C386.72 891.64 387.5 894.97 387.7 896.7C387.9 898.43 387.61 901.57 387.5 903C387.39 904.43 387.5 907.27 386.9 907.4C386.3 907.53 383.92 905.63 383 904C382.08 902.37 380.91 897.2 380 895.2C379.09 893.2 377.4 889.65 376.2 889C375 888.35 372.44 890.1 371 890.3C369.56 890.5 367.13 890.87 365.4 890.5C363.67 890.13 359.48 889.13 358 887.5C356.52 885.87 354.3 880.43 354.3 878.3C354.3 876.17 356.57 872.74 358 871.5C359.43 870.26 363.27 869.13 365 869Z" fill="#e13223" />
<ellipse cx="365" cy="879.4" rx="23.1" ry="22.2" fill="none" stroke="#111" stroke-width="1.1" stroke-dasharray="2.6 1.9"/>
<ellipse cx="364.8" cy="879.7" rx="14.5" ry="14" fill="none" stroke="#111" stroke-width="1.1" stroke-dasharray="2.6 1.9"/>
</g>
<path d="M332.41 919.2v-2.6M332.41 846.95v2.6M340.96 919.2v-4.8M340.96 846.95v4.8M349.52 919.2v-2.6M349.52 846.95v2.6M358.07 919.2v-2.6M358.07 846.95v2.6M366.62 919.2v-2.6M366.62 846.95v2.6M375.17 919.2v-4.8M375.17 846.95v4.8M383.73 919.2v-2.6M383.73 846.95v2.6M392.28 919.2v-2.6M392.28 846.95v2.6M328.13 917.93h2.6M398.27 917.93h-2.6M328.13 912.86h2.6M398.27 912.86h-2.6M328.13 907.79h2.6M398.27 907.79h-2.6M328.13 902.72h2.6M398.27 902.72h-2.6M328.13 897.65h4.8M398.27 897.65h-4.8M328.13 892.58h2.6M398.27 892.58h-2.6M328.13 887.51h2.6M398.27 887.51h-2.6M328.13 882.44h2.6M398.27 882.44h-2.6M328.13 877.37h2.6M398.27 877.37h-2.6M328.13 872.3h4.8M398.27 872.3h-4.8M328.13 867.23h2.6M398.27 867.23h-2.6M328.13 862.16h2.6M398.27 862.16h-2.6M328.13 857.09h2.6M398.27 857.09h-2.6M328.13 852.02h2.6M398.27 852.02h-2.6" stroke="#000" stroke-width="0.9" fill="none"/>
<rect x="328.13" y="846.95" width="70.13" height="72.25" fill="none" stroke="#000" stroke-width="1"/>
<path d="M399.5 919.2v-2.6M399.5 846.95v2.6M404.42 919.2v-2.6M404.42 846.95v2.6M409.34 919.2v-2.6M409.34 846.95v2.6M414.26 919.2v-2.6M414.26 846.95v2.6M419.18 919.2v-4.8M419.18 846.95v4.8M424.11 919.2v-2.6M424.11 846.95v2.6M429.03 919.2v-2.6M429.03 846.95v2.6M433.95 919.2v-2.6M433.95 846.95v2.6M438.87 919.2v-2.6M438.87 846.95v2.6M443.79 919.2v-4.8M443.79 846.95v4.8M448.71 919.2v-2.6M448.71 846.95v2.6M453.64 919.2v-2.6M453.64 846.95v2.6M458.56 919.2v-2.6M458.56 846.95v2.6M463.48 919.2v-2.6M463.48 846.95v2.6" stroke="#000" stroke-width="0.9" fill="none"/>
<rect x="398.27" y="846.95" width="70.13" height="72.25" fill="none" stroke="#000" stroke-width="1"/>
<clipPath id="c29"><rect x="48.1" y="486.2" width="69.13" height="73.45"/></clipPath><g clip-path="url(#c29)">
<path d="M68.8 557.95V526.25" stroke="#e4332a" stroke-width="1.15" stroke-dasharray="2.6 1.7" fill="none"/>
<path d="M74.8 557.95V521.11" stroke="#e4332a" stroke-width="1.15" stroke-dasharray="2.6 1.7" fill="none"/>
<path d="M68.3 557.95V521.03" stroke="#1f72e8" stroke-width="1.15" stroke-dasharray="2.6 1.7" fill="none"/>
<path d="M75 557.95V515.44" stroke="#1f72e8" stroke-width="1.15" stroke-dasharray="2.6 1.7" fill="none"/>
<path d="M46.6 557.95 L47.12 557.95 L47.63 557.95 L48.15 557.95 L48.66 557.95 L49.18 557.95 L49.69 557.95 L50.21 557.95 L50.72 557.95 L51.24 557.95 L51.75 557.95 L52.27 557.95 L52.78 557.95 L53.3 557.95 L53.81 557.95 L54.33 557.95 L54.84 557.95 L55.36 557.94 L55.87 557.94 L56.39 557.93 L56.9 557.92 L57.42 557.9 L57.94 557.87 L58.45 557.83 L58.97 557.76 L59.48 557.66 L60 557.52 L60.51 557.31 L61.03 557.03 L61.54 556.64 L62.06 556.12 L62.57 555.44 L63.09 554.55 L63.6 553.43 L64.12 552.04 L64.63 550.35 L65.15 548.33 L65.66 545.98 L66.18 543.29 L66.69 540.31 L67.21 537.06 L67.72 533.62 L68.24 530.08 L68.76 526.55 L69.27 523.15 L69.79 520.03 L70.3 517.3 L70.82 515.09 L71.33 513.51 L71.85 512.63 L72.36 512.49 L72.88 513.1 L73.39 514.43 L73.91 516.41 L74.42 518.96 L74.94 521.95 L75.45 525.26 L75.97 528.76 L76.48 532.31 L77 535.8 L77.51 539.13 L78.03 542.22 L78.54 545.02 L79.06 547.49 L79.58 549.64 L80.09 551.45 L80.61 552.95 L81.12 554.17 L81.64 555.13 L82.15 555.89 L82.67 556.47 L83.18 556.9 L83.7 557.22 L84.21 557.45 L84.73 557.61 L85.24 557.73 L85.76 557.8 L86.27 557.86 L86.79 557.89 L87.3 557.91 L87.82 557.93 L88.33 557.94 L88.85 557.94 L89.36 557.95 L89.88 557.95 L90.4 557.95 L90.91 557.95 L91.43 557.95 L91.94 557.95 L92.46 557.95 L92.97 557.95 L93.49 557.95 L94 557.95 L94.52 557.95 L95.03 557.95 L95.55 557.95 L96.06 557.95 L96.58 557.95 L97.09 557.95 L97.61 557.95 L98.12 557.95 L98.64 557.95 L99.15 557.95 L99.67 557.95 L100.18 557.95 L100.7 557.95 L101.22 557.95 L101.73 557.95 L102.25 557.95 L102.76 557.95 L103.28 557.95 L103.79 557.95 L104.31 557.95 L104.82 557.95 L105.34 557.95 L105.85 557.95 L106.37 557.95 L106.88 557.95 L107.4 557.95 L107.91 557.95 L108.43 557.95 L108.94 557.95 L109.46 557.95 L109.97 557.95 L110.49 557.95 L111 557.95 L111.52 557.95 L112.04 557.95 L112.55 557.95 L113.07 557.95 L113.58 557.95 L114.1 557.95 L114.61 557.95 L115.13 557.95 L115.64 557.95 L116.16 557.95 L116.67 557.95 L117.19 557.95 L117.7 557.95 L118.22 557.95 L118.73 557.95" stroke="#e4332a" stroke-width="1.15" fill="none"/>
<path d="M54.53 557.63 L54.9 557.6 L55.26 557.56 L55.62 557.51 L55.98 557.46 L56.34 557.41 L56.7 557.34 L57.06 557.27 L57.42 557.19 L57.78 557.1 L58.14 556.99 L58.5 556.87 L58.86 556.73 L59.22 556.57 L59.58 556.39 L59.94 556.18 L60.31 555.94 L60.67 555.66 L61.03 555.35 L61.39 554.98 L61.75 554.56 L62.11 554.08 L62.47 553.52 L62.83 552.87 L63.19 552.13 L63.55 551.27 L63.91 550.28 L64.27 549.15 L64.63 547.84 L64.99 546.35 L65.35 544.66 L65.72 542.73 L66.08 540.55 L66.44 538.1 L66.8 535.37 L67.16 532.35 L67.52 529.05 L67.88 525.49 L68.24 521.69 L68.6 517.7 L68.96 513.6 L69.32 509.48 L69.68 505.45 L70.04 501.65 L70.4 498.19 L70.76 495.24 L71.13 492.91 L71.49 491.31 L71.85 490.53 L72.21 490.61 L72.57 491.65 L72.93 493.58 L73.29 496.32 L73.65 499.71 L74.01 503.59 L74.37 507.8 L74.73 512.18 L75.09 516.57 L75.45 520.85 L75.81 524.95 L76.17 528.78 L76.54 532.32 L76.9 535.53 L77.26 538.41 L77.62 540.98 L77.98 543.24 L78.34 545.23 L78.7 546.96 L79.06 548.46 L79.42 549.76 L79.78 550.88 L80.14 551.84 L80.5 552.67 L80.86 553.39 L81.22 554 L81.58 554.53 L81.95 554.98 L82.31 555.37 L82.67 555.7 L83.03 555.99 L83.39 556.24 L83.75 556.45 L84.11 556.63 L84.47 556.79 L84.83 556.93 L85.19 557.05 L85.55 557.16 L85.91 557.25 L86.27 557.33 L86.63 557.4 L86.99 557.46 L87.36 557.51 L87.72 557.56 L88.08 557.6" stroke="#1f72e8" stroke-width="1.15" fill="none"/>
</g>
<clipPath id="c32"><rect x="118.23" y="558.45" width="69.13" height="73.45"/></clipPath><g clip-path="url(#c32)">
<path d="M184.2 630.2V615.93" stroke="#e4332a" stroke-width="1.15" stroke-dasharray="2.6 1.7" fill="none"/>
<path d="M183.8 630.2V610.74" stroke="#1f72e8" stroke-width="1.15" stroke-dasharray="2.6 1.7" fill="none"/>
<path d="M116.73 630.2 L117.25 630.2 L117.76 630.2 L118.28 630.2 L118.79 630.2 L119.31 630.2 L119.82 630.2 L120.34 630.2 L120.86 630.2 L121.37 630.2 L121.89 630.2 L122.4 630.2 L122.92 630.2 L123.43 630.2 L123.95 630.2 L124.46 630.2 L124.98 630.2 L125.49 630.2 L126.01 630.2 L126.52 630.2 L127.04 630.2 L127.55 630.2 L128.07 630.2 L128.58 630.2 L129.1 630.2 L129.61 630.2 L130.13 630.2 L130.64 630.2 L131.16 630.2 L131.68 630.2 L132.19 630.2 L132.71 630.2 L133.22 630.2 L133.74 630.2 L134.25 630.2 L134.77 630.2 L135.28 630.2 L135.8 630.2 L136.31 630.2 L136.83 630.2 L137.34 630.2 L137.86 630.2 L138.37 630.2 L138.89 630.2 L139.4 630.2 L139.92 630.2 L140.43 630.2 L140.95 630.2 L141.46 630.2 L141.98 630.2 L142.5 630.2 L143.01 630.2 L143.53 630.2 L144.04 630.2 L144.56 630.2 L145.07 630.2 L145.59 630.2 L146.1 630.2 L146.62 630.2 L147.13 630.2 L147.65 630.2 L148.16 630.2 L148.68 630.2 L149.19 630.2 L149.71 630.2 L150.22 630.2 L150.74 630.2 L151.25 630.2 L151.77 630.2 L152.28 630.2 L152.8 630.2 L153.32 630.2 L153.83 630.2 L154.35 630.2 L154.86 630.2 L155.38 630.2 L155.89 630.2 L156.41 630.2 L156.92 630.2 L157.44 630.2 L157.95 630.2 L158.47 630.2 L158.98 630.2 L159.5 630.19 L160.01 630.19 L160.53 630.19 L161.04 630.19 L161.56 630.19 L162.07 630.19 L162.59 630.19 L163.1 630.18 L163.62 630.18 L164.14 630.18 L164.65 630.17 L165.17 630.17 L165.68 630.16 L166.2 630.15 L166.71 630.14 L167.23 630.13 L167.74 630.12 L168.26 630.11 L168.77 630.09 L169.29 630.07 L169.8 630.05 L170.32 630.03 L170.83 630 L171.35 629.96 L171.86 629.92 L172.38 629.87 L172.89 629.81 L173.41 629.74 L173.92 629.65 L174.44 629.56 L174.96 629.44 L175.47 629.31 L175.99 629.15 L176.5 628.96 L177.02 628.74 L177.53 628.48 L178.05 628.18 L178.56 627.82 L179.08 627.39 L179.59 626.89 L180.11 626.31 L180.62 625.62 L181.14 624.8 L181.65 623.84 L182.17 622.71 L182.68 621.38 L183.2 619.81 L183.71 617.97 L184.23 615.79 L184.74 613.23 L185.26 610.22 L185.78 606.67 L186.29 602.48 L186.81 597.56 L187.32 591.76 L187.84 584.93 L188.35 576.88 L188.87 567.41" stroke="#e4332a" stroke-width="1.15" fill="none"/>
<path d="M170.83 629.88 L171.19 629.84 L171.55 629.8 L171.92 629.75 L172.28 629.7 L172.64 629.64 L173 629.57 L173.36 629.49 L173.72 629.41 L174.08 629.31 L174.44 629.2 L174.8 629.08 L175.16 628.95 L175.52 628.79 L175.88 628.62 L176.24 628.43 L176.6 628.22 L176.96 627.98 L177.33 627.71 L177.69 627.41 L178.05 627.07 L178.41 626.69 L178.77 626.26 L179.13 625.78 L179.49 625.25 L179.85 624.65 L180.21 623.97 L180.57 623.22 L180.93 622.37 L181.29 621.42 L181.65 620.36 L182.01 619.16 L182.37 617.83 L182.74 616.32 L183.1 614.64 L183.46 612.75 L183.82 610.64 L184.18 608.26 L184.54 605.6 L184.9 602.62 L185.26 599.27 L185.62 595.52 L185.98 591.32 L186.34 586.6 L186.7 581.31 L187.06 575.38 L187.42 568.73 L187.78 561.27 L188.15 552.91 L188.51 543.53 L188.87 533.02" stroke="#1f72e8" stroke-width="1.15" fill="none"/>
</g>
<clipPath id="c36"><rect x="188.37" y="630.7" width="69.13" height="73.45"/></clipPath><g clip-path="url(#c36)">
<path d="M233.3 702.4V643.6" stroke="#e4332a" stroke-width="1.15" stroke-dasharray="2.6 1.7" fill="none"/>
<path d="M233.3 702.4V643.6" stroke="#1f72e8" stroke-width="1.0" stroke-dasharray="2.6 1.7" fill="none"/>
<path d="M186 636.3L259.5 647" stroke="#e4332a" stroke-width="1.15" fill="none"/>
<path d="M186.87 631.09 L187.38 631.27 L187.9 631.45 L188.41 631.63 L188.93 631.81 L189.44 631.98 L189.96 632.16 L190.47 632.33 L190.99 632.51 L191.5 632.68 L192.02 632.86 L192.53 633.03 L193.05 633.2 L193.56 633.38 L194.08 633.55 L194.6 633.72 L195.11 633.89 L195.63 634.06 L196.14 634.23 L196.66 634.39 L197.17 634.56 L197.69 634.73 L198.2 634.89 L198.72 635.06 L199.23 635.22 L199.75 635.39 L200.26 635.55 L200.78 635.71 L201.29 635.88 L201.81 636.04 L202.32 636.2 L202.84 636.36 L203.35 636.52 L203.87 636.68 L204.38 636.84 L204.9 636.99 L205.42 637.15 L205.93 637.31 L206.45 637.46 L206.96 637.62 L207.48 637.77 L207.99 637.93 L208.51 638.08 L209.02 638.23 L209.54 638.38 L210.05 638.53 L210.57 638.68 L211.08 638.83 L211.6 638.98 L212.11 639.13 L212.63 639.28 L213.14 639.43 L213.66 639.57 L214.17 639.72 L214.69 639.86 L215.2 640.01 L215.72 640.15 L216.24 640.29 L216.75 640.44 L217.27 640.58 L217.78 640.72 L218.3 640.86 L218.81 641 L219.33 641.14 L219.84 641.28 L220.36 641.42 L220.87 641.55 L221.39 641.69 L221.9 641.83 L222.42 641.96 L222.93 642.1 L223.45 642.23 L223.96 642.36 L224.48 642.5 L224.99 642.63 L225.51 642.76 L226.02 642.89 L226.54 643.02 L227.06 643.15 L227.57 643.28 L228.09 643.41 L228.6 643.54 L229.12 643.66 L229.63 643.79 L230.15 643.91 L230.66 644.04 L231.18 644.16 L231.69 644.29 L232.21 644.41 L232.72 644.53 L233.24 644.65 L233.75 644.77 L234.27 644.9 L234.78 645.02 L235.3 645.13 L235.81 645.25 L236.33 645.37 L236.84 645.49 L237.36 645.6 L237.88 645.72 L238.39 645.83 L238.91 645.95 L239.42 646.06 L239.94 646.18 L240.45 646.29 L240.97 646.4 L241.48 646.51 L242 646.62 L242.51 646.73 L243.03 646.84 L243.54 646.95 L244.06 647.06 L244.57 647.17 L245.09 647.27 L245.6 647.38 L246.12 647.48 L246.63 647.59 L247.15 647.69 L247.66 647.8 L248.18 647.9 L248.7 648 L249.21 648.1 L249.73 648.2 L250.24 648.3 L250.76 648.4 L251.27 648.5 L251.79 648.6 L252.3 648.7 L252.82 648.79 L253.33 648.89 L253.85 648.98 L254.36 649.08 L254.88 649.17 L255.39 649.27 L255.91 649.36 L256.42 649.45 L256.94 649.54 L257.45 649.63 L257.97 649.73 L258.48 649.81 L259 649.9" stroke="#1f72e8" stroke-width="1.15" fill="none"/>
</g>
<clipPath id="c41"><rect x="258.5" y="702.95" width="69.13" height="73.45"/></clipPath><g clip-path="url(#c41)">
<path d="M287.4 774.7V727.2" stroke="#e4332a" stroke-width="1.15" stroke-dasharray="2.6 1.7" fill="none"/>
<path d="M292 774.7V722" stroke="#1f72e8" stroke-width="1.15" stroke-dasharray="2.6 1.7" fill="none"/>
<path d="M256 753.6C258.53 751.15 266.1 743.23 271.2 738.9C276.3 734.57 282.55 730.3 286.6 727.6C290.65 724.9 291.85 724.07 295.5 722.7C299.15 721.33 302.75 720.67 308.5 719.4C314.25 718.13 326.42 715.82 330 715.1" stroke="#e4332a" stroke-width="1.15" fill="none"/>
<path d="M256 766C257.45 764.18 261.63 759.08 264.7 755.1C267.77 751.12 270.88 746.42 274.4 742.1C277.92 737.78 282.82 732.57 285.8 729.2C288.78 725.83 289.6 724.2 292.3 721.9C295 719.6 298.22 717.3 302 715.4C305.78 713.5 310.33 712.2 315 710.5C319.67 708.8 327.5 706.08 330 705.2" stroke="#1f72e8" stroke-width="1.15" fill="none"/>
</g>
<clipPath id="c47"><rect x="328.63" y="775.2" width="69.13" height="73.45"/></clipPath><g clip-path="url(#c47)">
<path d="M357.7 846.95V816.83" stroke="#e4332a" stroke-width="1.15" stroke-dasharray="2.6 1.7" fill="none"/>
<path d="M386 846.95V814.69" stroke="#e4332a" stroke-width="1.15" stroke-dasharray="2.6 1.7" fill="none"/>
<path d="M327.13 846.83 L327.65 846.81 L328.16 846.8 L328.68 846.79 L329.19 846.77 L329.71 846.75 L330.22 846.73 L330.74 846.71 L331.26 846.68 L331.77 846.66 L332.29 846.63 L332.8 846.59 L333.32 846.55 L333.83 846.51 L334.35 846.47 L334.86 846.42 L335.38 846.36 L335.89 846.3 L336.41 846.23 L336.92 846.15 L337.44 846.07 L337.95 845.97 L338.47 845.87 L338.98 845.75 L339.5 845.63 L340.01 845.48 L340.53 845.33 L341.04 845.15 L341.56 844.96 L342.08 844.75 L342.59 844.51 L343.11 844.25 L343.62 843.97 L344.14 843.65 L344.65 843.31 L345.17 842.93 L345.68 842.51 L346.2 842.05 L346.71 841.55 L347.23 841 L347.74 840.4 L348.26 839.75 L348.77 839.05 L349.29 838.28 L349.8 837.45 L350.32 836.56 L350.83 835.6 L351.35 834.58 L351.86 833.48 L352.38 832.31 L352.9 831.08 L353.41 829.77 L353.93 828.4 L354.44 826.96 L354.96 825.47 L355.47 823.92 L355.99 822.33 L356.5 820.7 L357.02 819.04 L357.53 817.37 L358.05 815.7 L358.56 814.04 L359.08 812.42 L359.59 810.83 L360.11 809.31 L360.62 807.88 L361.14 806.53 L361.65 805.3 L362.17 804.21 L362.68 803.25 L363.2 802.46 L363.72 801.83 L364.23 801.39 L364.75 801.12 L365.26 801.05 L365.78 801.2 L366.29 801.57 L366.81 802.18 L367.32 803 L367.84 804.02 L368.35 805.24 L368.87 806.62 L369.38 808.15 L369.9 809.81 L370.41 811.56 L370.93 813.37 L371.44 815.22 L371.96 817.06 L372.47 818.84 L372.99 820.51 L373.5 822.02 L374.02 823.28 L374.54 824.23 L375.05 824.78 L375.57 824.84 L376.08 824.31 L376.6 823.13 L377.11 821.23 L377.63 818.59 L378.14 815.21 L378.66 811.15 L379.17 806.54 L379.69 801.55 L380.2 796.42 L380.72 791.41 L381.23 786.82 L381.75 782.95 L382.26 780.05 L382.78 778.36 L383.29 778 L383.81 780.1 L384.32 785.49 L384.84 793.4 L385.36 802.73 L385.87 812.35 L386.39 821.29 L386.9 828.91 L387.42 834.92 L387.93 839.33 L388.45 842.36 L388.96 844.31 L389.48 845.49 L389.99 846.17 L390.51 846.54 L391.02 846.73 L391.54 846.83 L392.05 846.88 L392.57 846.91 L393.08 846.92 L393.6 846.93 L394.11 846.94 L394.63 846.94 L395.14 846.94 L395.66 846.94 L396.18 846.95 L396.69 846.95 L397.21 846.95 L397.72 846.95 L398.24 846.95 L398.75 846.95 L399.27 846.95" stroke="#e4332a" stroke-width="1.15" fill="none"/>
<path d="M327.13 846.38 L327.65 846.34 L328.16 846.3 L328.68 846.25 L329.19 846.21 L329.71 846.15 L330.22 846.1 L330.74 846.04 L331.26 845.97 L331.77 845.9 L332.29 845.83 L332.8 845.75 L333.32 845.66 L333.83 845.56 L334.35 845.46 L334.86 845.34 L335.38 845.22 L335.89 845.09 L336.41 844.95 L336.92 844.79 L337.44 844.62 L337.95 844.44 L338.47 844.24 L338.98 844.03 L339.5 843.79 L340.01 843.54 L340.53 843.26 L341.04 842.96 L341.56 842.64 L342.08 842.28 L342.59 841.9 L343.11 841.48 L343.62 841.03 L344.14 840.54 L344.65 840.01 L345.17 839.43 L345.68 838.8 L346.2 838.13 L346.71 837.39 L347.23 836.6 L347.74 835.75 L348.26 834.83 L348.77 833.83 L349.29 832.77 L349.8 831.63 L350.32 830.4 L350.83 829.09 L351.35 827.7 L351.86 826.22 L352.38 824.65 L352.9 822.99 L353.41 821.24 L353.93 819.42 L354.44 817.51 L354.96 815.53 L355.47 813.48 L355.99 811.37 L356.5 809.23 L357.02 807.05 L357.53 804.86 L358.05 802.68 L358.56 800.52 L359.08 798.41 L359.59 796.37 L360.11 794.43 L360.62 792.61 L361.14 790.94 L361.65 789.43 L362.17 788.12 L362.68 787.02 L363.2 786.15 L363.72 785.53 L364.23 785.16 L364.75 785.05 L365.26 785.21 L365.78 785.62 L366.29 786.29 L366.81 787.2 L367.32 788.34 L367.84 789.68 L368.35 791.22 L368.87 792.92 L369.38 794.77 L369.9 796.73 L370.41 798.78 L370.93 800.9 L371.44 803.06 L371.96 805.25 L372.47 807.44 L372.99 809.61 L373.5 811.75 L374.02 813.85 L374.54 815.88 L375.05 817.85 L375.57 819.75 L376.08 821.56 L376.6 823.29 L377.11 824.93 L377.63 826.49 L378.14 827.95 L378.66 829.33 L379.17 830.62 L379.69 831.83 L380.2 832.96 L380.72 834.02 L381.23 834.99 L381.75 835.9 L382.26 836.75 L382.78 837.53 L383.29 838.25 L383.81 838.92 L384.32 839.53 L384.84 840.1 L385.36 840.63 L385.87 841.11 L386.39 841.56 L386.9 841.97 L387.42 842.35 L387.93 842.7 L388.45 843.02 L388.96 843.31 L389.48 843.58 L389.99 843.83 L390.51 844.06 L391.02 844.28 L391.54 844.47 L392.05 844.65 L392.57 844.82 L393.08 844.97 L393.6 845.11 L394.11 845.24 L394.63 845.36 L395.14 845.48 L395.66 845.58 L396.18 845.67 L396.69 845.76 L397.21 845.84 L397.72 845.92 L398.24 845.99 L398.75 846.05 L399.27 846.11" stroke="#111" stroke-width="1.15" fill="none" stroke-dasharray="3 2"/>
</g>
<clipPath id="c54"><rect x="398.77" y="847.45" width="69.13" height="73.45"/></clipPath><g clip-path="url(#c54)">
<path d="M421.4 919.2V877.02" stroke="#e4332a" stroke-width="1.15" stroke-dasharray="2.6 1.7" fill="none"/>
<path d="M441.5 919.2V876.46" stroke="#e4332a" stroke-width="1.15" stroke-dasharray="2.6 1.7" fill="none"/>
<path d="M397.27 918.75 L397.78 918.68 L398.3 918.6 L398.81 918.5 L399.33 918.4 L399.84 918.28 L400.36 918.15 L400.87 918 L401.39 917.83 L401.9 917.64 L402.42 917.42 L402.93 917.19 L403.45 916.92 L403.96 916.63 L404.48 916.31 L405 915.95 L405.51 915.55 L406.03 915.12 L406.54 914.65 L407.06 914.13 L407.57 913.57 L408.09 912.95 L408.6 912.29 L409.12 911.57 L409.63 910.79 L410.15 909.96 L410.66 909.06 L411.18 908.11 L411.69 907.09 L412.21 906 L412.72 904.85 L413.24 903.63 L413.75 902.35 L414.27 901 L414.78 899.59 L415.3 898.11 L415.82 896.57 L416.33 894.97 L416.85 893.32 L417.36 891.61 L417.88 889.86 L418.39 888.06 L418.91 886.22 L419.42 884.36 L419.94 882.46 L420.45 880.55 L420.97 878.63 L421.48 876.71 L422 874.79 L422.51 872.89 L423.03 871.02 L423.54 869.17 L424.06 867.37 L424.57 865.63 L425.09 863.94 L425.6 862.33 L426.12 860.8 L426.64 859.36 L427.15 858.02 L427.67 856.78 L428.18 855.66 L428.7 854.66 L429.21 853.79 L429.73 853.06 L430.24 852.46 L430.76 852 L431.27 851.69 L431.79 851.53 L432.3 851.51 L432.82 851.68 L433.33 852.03 L433.85 852.57 L434.36 853.28 L434.88 854.17 L435.39 855.22 L435.91 856.43 L436.42 857.78 L436.94 859.27 L437.46 860.89 L437.97 862.62 L438.49 864.45 L439 866.37 L439.52 868.36 L440.03 870.41 L440.55 872.5 L441.06 874.63 L441.58 876.79 L442.09 878.94 L442.61 881.1 L443.12 883.24 L443.64 885.35 L444.15 887.42 L444.67 889.45 L445.18 891.43 L445.7 893.35 L446.21 895.2 L446.73 896.98 L447.24 898.69 L447.76 900.32 L448.28 901.86 L448.79 903.32 L449.31 904.7 L449.82 906 L450.34 907.21 L450.85 908.35 L451.37 909.4 L451.88 910.37 L452.4 911.27 L452.91 912.1 L453.43 912.86 L453.94 913.55 L454.46 914.18 L454.97 914.76 L455.49 915.28 L456 915.74 L456.52 916.16 L457.03 916.54 L457.55 916.88 L458.06 917.18 L458.58 917.44 L459.1 917.68 L459.61 917.88 L460.13 918.07 L460.64 918.23 L461.16 918.36 L461.67 918.49 L462.19 918.59 L462.7 918.68 L463.22 918.76 L463.73 918.83 L464.25 918.89 L464.76 918.94 L465.28 918.98 L465.79 919.02 L466.31 919.05 L466.82 919.07 L467.34 919.09 L467.85 919.11 L468.37 919.13 L468.88 919.14 L469.4 919.15" stroke="#e4332a" stroke-width="1.15" fill="none"/>
<path d="M397.27 919.2 L397.78 919.2 L398.3 919.2 L398.81 919.2 L399.33 919.2 L399.84 919.2 L400.36 919.2 L400.87 919.2 L401.39 919.2 L401.9 919.2 L402.42 919.2 L402.93 919.2 L403.45 919.19 L403.96 919.19 L404.48 919.19 L405 919.19 L405.51 919.18 L406.03 919.17 L406.54 919.16 L407.06 919.15 L407.57 919.14 L408.09 919.12 L408.6 919.09 L409.12 919.05 L409.63 919.01 L410.15 918.95 L410.66 918.88 L411.18 918.79 L411.69 918.68 L412.21 918.54 L412.72 918.37 L413.24 918.16 L413.75 917.9 L414.27 917.6 L414.78 917.23 L415.3 916.79 L415.82 916.26 L416.33 915.65 L416.85 914.93 L417.36 914.1 L417.88 913.15 L418.39 912.05 L418.91 910.81 L419.42 909.42 L419.94 907.85 L420.45 906.12 L420.97 904.2 L421.48 902.11 L422 899.84 L422.51 897.4 L423.03 894.8 L423.54 892.04 L424.06 889.16 L424.57 886.16 L425.09 883.08 L425.6 879.95 L426.12 876.79 L426.64 873.65 L427.15 870.57 L427.67 867.58 L428.18 864.73 L428.7 862.07 L429.21 859.63 L429.73 857.45 L430.24 855.57 L430.76 854.01 L431.27 852.82 L431.79 852 L432.3 851.57 L432.82 851.51 L433.33 851.65 L433.85 851.93 L434.36 852.36 L434.88 852.94 L435.39 853.65 L435.91 854.5 L436.42 855.47 L436.94 856.57 L437.46 857.78 L437.97 859.11 L438.49 860.53 L439 862.04 L439.52 863.64 L440.03 865.31 L440.55 867.05 L441.06 868.84 L441.58 870.68 L442.09 872.55 L442.61 874.44 L443.12 876.36 L443.64 878.28 L444.15 880.2 L444.67 882.11 L445.18 884.01 L445.7 885.88 L446.21 887.73 L446.73 889.53 L447.24 891.29 L447.76 893.01 L448.28 894.67 L448.79 896.28 L449.31 897.83 L449.82 899.32 L450.34 900.75 L450.85 902.11 L451.37 903.4 L451.88 904.63 L452.4 905.8 L452.91 906.89 L453.43 907.93 L453.94 908.89 L454.46 909.8 L454.97 910.64 L455.49 911.43 L456 912.16 L456.52 912.83 L457.03 913.46 L457.55 914.03 L458.06 914.56 L458.58 915.04 L459.1 915.48 L459.61 915.88 L460.13 916.24 L460.64 916.57 L461.16 916.87 L461.67 917.14 L462.19 917.38 L462.7 917.6 L463.22 917.79 L463.73 917.97 L464.25 918.12 L464.76 918.26 L465.28 918.38 L465.79 918.49 L466.31 918.58 L466.82 918.66 L467.34 918.74 L467.85 918.8 L468.37 918.86 L468.88 918.91 L469.4 918.95" stroke="#111" stroke-width="1.15" fill="none" stroke-dasharray="3 2"/>
</g>
<text x="71.72" y="930.9" font-size="11.8" text-anchor="middle" textLength="16.2" lengthAdjust="spacingAndGlyphs">−1</text>
<text x="94.06" y="930.9" font-size="11.8" text-anchor="middle">0</text>
<text x="80.9" y="943.4" font-size="12.5" text-anchor="middle" textLength="75.3" lengthAdjust="spacingAndGlyphs">log<tspan font-size="8.8" dy="2.9">10</tspan><tspan dy="-2.9"> </tspan><tspan font-style="italic">T</tspan><tspan font-size="10.5" dy="5">*</tspan><tspan dy="-5">/GeV</tspan></text>
<text x="135.27" y="930.9" font-size="11.8" text-anchor="middle" textLength="25.6" lengthAdjust="spacingAndGlyphs">−1.6</text>
<text x="170.33" y="930.9" font-size="11.8" text-anchor="middle" textLength="25.6" lengthAdjust="spacingAndGlyphs">−0.8</text>
<text x="151" y="943.4" font-size="12.5" text-anchor="middle" textLength="65.1" lengthAdjust="spacingAndGlyphs">log<tspan font-size="8.8" dy="2.9">10</tspan><tspan dy="-2.9"> </tspan>Δ<tspan font-style="italic">N</tspan><tspan font-size="8.8" dy="2.9">eff</tspan></text>
<text x="201.89" y="930.9" font-size="11.8" text-anchor="middle" textLength="15.5" lengthAdjust="spacingAndGlyphs">0.6</text>
<text x="229.95" y="930.9" font-size="11.8" text-anchor="middle" textLength="15.5" lengthAdjust="spacingAndGlyphs">0.8</text>
<text x="223.2" y="943.4" font-size="12.5" text-anchor="middle"><tspan font-style="italic">b</tspan></text>
<text x="275.8" y="930.9" font-size="11.8" text-anchor="middle">1</text>
<text x="301.96" y="930.9" font-size="11.8" text-anchor="middle">2</text>
<text x="292.6" y="943.4" font-size="12.5" text-anchor="middle"><tspan font-style="italic">c</tspan></text>
<text x="340.96" y="930.9" font-size="11.8" text-anchor="middle" textLength="22.6" lengthAdjust="spacingAndGlyphs">−17</text>
<text x="375.17" y="930.9" font-size="11.8" text-anchor="middle" textLength="22.6" lengthAdjust="spacingAndGlyphs">−15</text>
<text x="362.9" y="943.4" font-size="12.5" text-anchor="middle" textLength="65.2" lengthAdjust="spacingAndGlyphs">log<tspan font-size="8.8" dy="2.9">10</tspan><tspan dy="-2.9"> </tspan><tspan font-style="italic">A</tspan><tspan font-size="8.8" dy="2.9">BHB</tspan></text>
<text x="419.18" y="930.9" font-size="11.8" text-anchor="middle">4</text>
<text x="443.79" y="930.9" font-size="11.8" text-anchor="middle">5</text>
<text x="433.6" y="943.4" font-size="12.5" text-anchor="middle" textLength="29.9" lengthAdjust="spacingAndGlyphs"><tspan font-style="italic">γ</tspan><tspan font-size="8.8" dy="2.9">BHB</tspan></text>
<text x="44.3" y="611.92" font-size="11.8" text-anchor="end" textLength="25.6" lengthAdjust="spacingAndGlyphs">−1.5</text>
<text x="44.3" y="589.34" font-size="11.8" text-anchor="end" textLength="25.6" lengthAdjust="spacingAndGlyphs">−1.0</text>
<text x="9" y="593.65" font-size="12.5" text-anchor="middle" transform="rotate(-90 9 593.65)" textLength="65.1" lengthAdjust="spacingAndGlyphs">log<tspan font-size="8.8" dy="2.9">10</tspan><tspan dy="-2.9"> </tspan>Δ<tspan font-style="italic">N</tspan><tspan font-size="8.8" dy="2.9">eff</tspan></text>
<text x="44.3" y="692.3" font-size="11.8" text-anchor="end" textLength="15.5" lengthAdjust="spacingAndGlyphs">0.6</text>
<text x="44.3" y="663.4" font-size="11.8" text-anchor="end" textLength="15.5" lengthAdjust="spacingAndGlyphs">0.8</text>
<text x="9" y="665.6" font-size="12.5" text-anchor="middle" transform="rotate(-90 9 665.6)"><tspan font-style="italic">b</tspan></text>
<text x="44.3" y="760.67" font-size="11.8" text-anchor="end">1</text>
<text x="44.3" y="733.71" font-size="11.8" text-anchor="end">2</text>
<text x="9" y="737.7" font-size="12.5" text-anchor="middle" transform="rotate(-90 9 737.7)"><tspan font-style="italic">c</tspan></text>
<text x="44.3" y="802.79" font-size="11.8" text-anchor="end" textLength="22.6" lengthAdjust="spacingAndGlyphs">−15</text>
<text x="44.3" y="820.41" font-size="11.8" text-anchor="end" textLength="22.6" lengthAdjust="spacingAndGlyphs">−16</text>
<text x="44.3" y="838.03" font-size="11.8" text-anchor="end" textLength="22.6" lengthAdjust="spacingAndGlyphs">−17</text>
<text x="9" y="811.15" font-size="12.5" text-anchor="middle" transform="rotate(-90 9 811.15)" textLength="65.2" lengthAdjust="spacingAndGlyphs">log<tspan font-size="8.8" dy="2.9">10</tspan><tspan dy="-2.9"> </tspan><tspan font-style="italic">A</tspan><tspan font-size="8.8" dy="2.9">BHB</tspan></text>
<text x="44.3" y="901.95" font-size="11.8" text-anchor="end">4</text>
<text x="44.3" y="876.6" font-size="11.8" text-anchor="end">5</text>
<text x="9" y="883" font-size="12.5" text-anchor="middle" transform="rotate(-90 9 883)" textLength="29.9" lengthAdjust="spacingAndGlyphs"><tspan font-style="italic">γ</tspan><tspan font-size="8.8" dy="2.9">BHB</tspan></text>
<rect x="357.2" y="0.8" width="111" height="30" rx="2" fill="#fff" stroke="#cfcfcf" stroke-width="1"/>
<rect x="360" y="4.1" width="21.3" height="8.5" fill="#e0301e"/>
<rect x="360" y="17.8" width="21.3" height="8.5" fill="#1668e6"/>
<text x="389" y="11.9" font-size="8.2" textLength="75" lengthAdjust="spacingAndGlyphs">DW-SM <tspan font-size="11">+</tspan> SMBHB</text>
<text x="389" y="25.8" font-size="8.2" letter-spacing="0.3">DW-SM</text>
<rect x="357.2" y="485.3" width="111" height="30" rx="2" fill="#fff" stroke="#cfcfcf" stroke-width="1"/>
<rect x="360" y="488.6" width="21.3" height="8.5" fill="#e0301e"/>
<rect x="360" y="502.3" width="21.3" height="8.5" fill="#1668e6"/>
<text x="389" y="496.4" font-size="8.2" textLength="75" lengthAdjust="spacingAndGlyphs">DW-DR <tspan font-size="11">+</tspan> SMBHB</text>
<text x="389" y="510.3" font-size="8.2" letter-spacing="0.3">DW-DR</text>
</svg></body></html>
